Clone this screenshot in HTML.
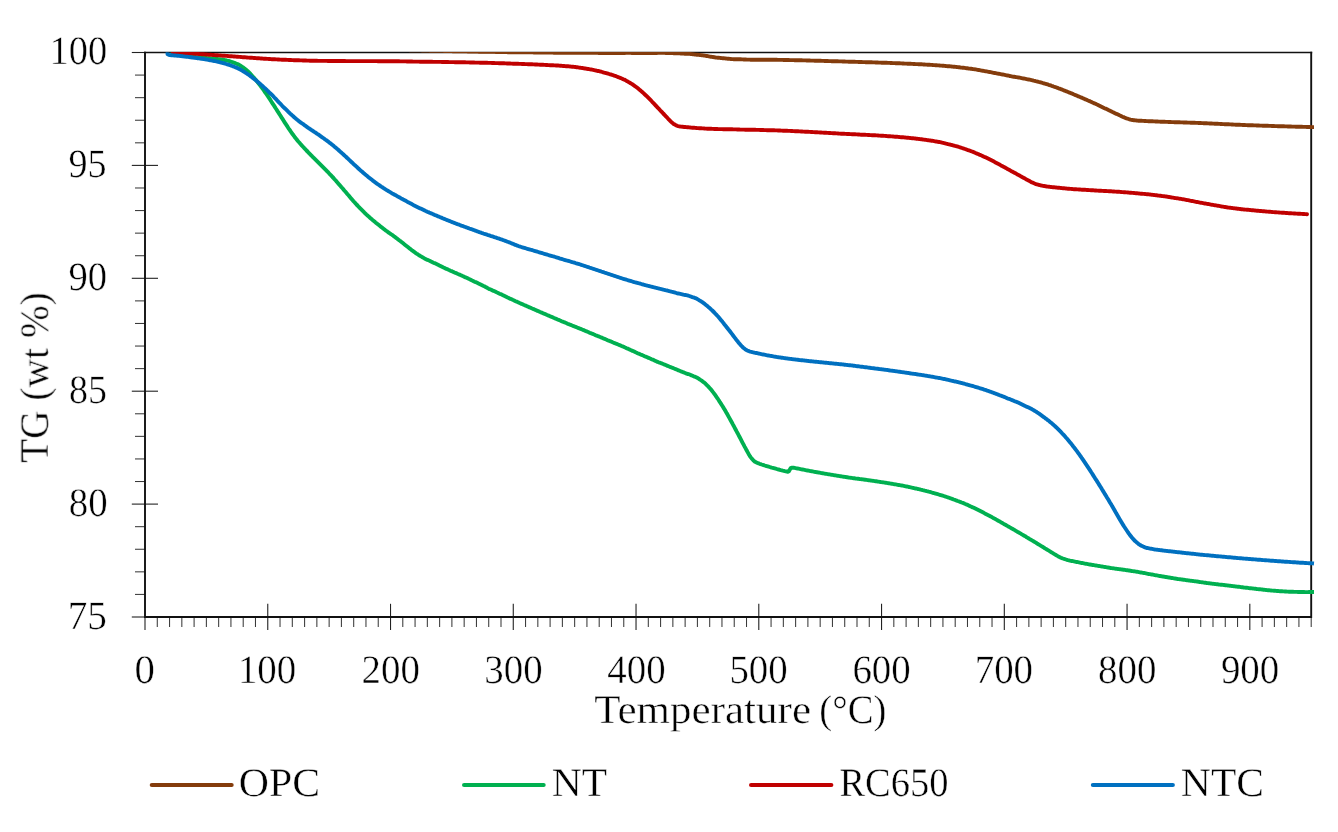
<!DOCTYPE html>
<html lang="en">
<head>
<meta charset="utf-8">
<title>TG curves</title>
<style>
html,body{margin:0;padding:0;background:#fff;}
body{width:1338px;height:832px;overflow:hidden;}
svg{display:block;}
text{font-family:"Liberation Serif","DejaVu Serif",serif;fill:#000;stroke:#fff;stroke-width:0.45px;text-rendering:geometricPrecision;}
.mj{stroke:#222;stroke-width:1.1;}
.mn{stroke:#3a3a3a;stroke-width:1.05;}
.c{fill:none;stroke-width:3.9;stroke-linejoin:round;}
</style>
</head>
<body>
<svg width="1338" height="832" viewBox="0 0 1338 832">
<rect width="1338" height="832" fill="#fff"/>
<defs><clipPath id="pa"><rect x="140" y="51.9" width="1180" height="580"/></clipPath></defs>
<g id="ticks">
<line class="mj" x1="131.8" x2="145.0" y1="617.00" y2="617.00"/>
<line class="mn" x1="135.0" x2="145.0" y1="594.42" y2="594.42"/>
<line class="mn" x1="135.0" x2="145.0" y1="571.84" y2="571.84"/>
<line class="mn" x1="135.0" x2="145.0" y1="549.26" y2="549.26"/>
<line class="mn" x1="135.0" x2="145.0" y1="526.68" y2="526.68"/>
<line class="mj" x1="131.8" x2="158.0" y1="504.10" y2="504.10"/>
<line class="mn" x1="135.0" x2="145.0" y1="481.52" y2="481.52"/>
<line class="mn" x1="135.0" x2="145.0" y1="458.94" y2="458.94"/>
<line class="mn" x1="135.0" x2="145.0" y1="436.36" y2="436.36"/>
<line class="mn" x1="135.0" x2="145.0" y1="413.78" y2="413.78"/>
<line class="mj" x1="131.8" x2="158.0" y1="391.20" y2="391.20"/>
<line class="mn" x1="135.0" x2="145.0" y1="368.62" y2="368.62"/>
<line class="mn" x1="135.0" x2="145.0" y1="346.04" y2="346.04"/>
<line class="mn" x1="135.0" x2="145.0" y1="323.46" y2="323.46"/>
<line class="mn" x1="135.0" x2="145.0" y1="300.88" y2="300.88"/>
<line class="mj" x1="131.8" x2="158.0" y1="278.30" y2="278.30"/>
<line class="mn" x1="135.0" x2="145.0" y1="255.72" y2="255.72"/>
<line class="mn" x1="135.0" x2="145.0" y1="233.14" y2="233.14"/>
<line class="mn" x1="135.0" x2="145.0" y1="210.56" y2="210.56"/>
<line class="mn" x1="135.0" x2="145.0" y1="187.98" y2="187.98"/>
<line class="mj" x1="131.8" x2="158.0" y1="165.40" y2="165.40"/>
<line class="mn" x1="135.0" x2="145.0" y1="142.82" y2="142.82"/>
<line class="mn" x1="135.0" x2="145.0" y1="120.24" y2="120.24"/>
<line class="mn" x1="135.0" x2="145.0" y1="97.66" y2="97.66"/>
<line class="mn" x1="135.0" x2="145.0" y1="75.08" y2="75.08"/>
<line class="mj" x1="131.8" x2="145.0" y1="52.50" y2="52.50"/>
<line class="mj" x1="145.00" x2="145.00" y1="617.0" y2="630.0"/>
<line class="mn" x1="157.28" x2="157.28" y1="617.0" y2="627.0"/>
<line class="mn" x1="169.55" x2="169.55" y1="617.0" y2="627.0"/>
<line class="mn" x1="181.83" x2="181.83" y1="617.0" y2="627.0"/>
<line class="mn" x1="194.10" x2="194.10" y1="617.0" y2="627.0"/>
<line class="mn" x1="206.38" x2="206.38" y1="617.0" y2="627.0"/>
<line class="mn" x1="218.65" x2="218.65" y1="617.0" y2="627.0"/>
<line class="mn" x1="230.93" x2="230.93" y1="617.0" y2="627.0"/>
<line class="mn" x1="243.21" x2="243.21" y1="617.0" y2="627.0"/>
<line class="mn" x1="255.48" x2="255.48" y1="617.0" y2="627.0"/>
<line class="mj" x1="267.76" x2="267.76" y1="603.8" y2="630.0"/>
<line class="mn" x1="280.03" x2="280.03" y1="617.0" y2="627.0"/>
<line class="mn" x1="292.31" x2="292.31" y1="617.0" y2="627.0"/>
<line class="mn" x1="304.59" x2="304.59" y1="617.0" y2="627.0"/>
<line class="mn" x1="316.86" x2="316.86" y1="617.0" y2="627.0"/>
<line class="mn" x1="329.14" x2="329.14" y1="617.0" y2="627.0"/>
<line class="mn" x1="341.41" x2="341.41" y1="617.0" y2="627.0"/>
<line class="mn" x1="353.69" x2="353.69" y1="617.0" y2="627.0"/>
<line class="mn" x1="365.96" x2="365.96" y1="617.0" y2="627.0"/>
<line class="mn" x1="378.24" x2="378.24" y1="617.0" y2="627.0"/>
<line class="mj" x1="390.52" x2="390.52" y1="603.8" y2="630.0"/>
<line class="mn" x1="402.79" x2="402.79" y1="617.0" y2="627.0"/>
<line class="mn" x1="415.07" x2="415.07" y1="617.0" y2="627.0"/>
<line class="mn" x1="427.34" x2="427.34" y1="617.0" y2="627.0"/>
<line class="mn" x1="439.62" x2="439.62" y1="617.0" y2="627.0"/>
<line class="mn" x1="451.89" x2="451.89" y1="617.0" y2="627.0"/>
<line class="mn" x1="464.17" x2="464.17" y1="617.0" y2="627.0"/>
<line class="mn" x1="476.45" x2="476.45" y1="617.0" y2="627.0"/>
<line class="mn" x1="488.72" x2="488.72" y1="617.0" y2="627.0"/>
<line class="mn" x1="501.00" x2="501.00" y1="617.0" y2="627.0"/>
<line class="mj" x1="513.27" x2="513.27" y1="603.8" y2="630.0"/>
<line class="mn" x1="525.55" x2="525.55" y1="617.0" y2="627.0"/>
<line class="mn" x1="537.83" x2="537.83" y1="617.0" y2="627.0"/>
<line class="mn" x1="550.10" x2="550.10" y1="617.0" y2="627.0"/>
<line class="mn" x1="562.38" x2="562.38" y1="617.0" y2="627.0"/>
<line class="mn" x1="574.65" x2="574.65" y1="617.0" y2="627.0"/>
<line class="mn" x1="586.93" x2="586.93" y1="617.0" y2="627.0"/>
<line class="mn" x1="599.20" x2="599.20" y1="617.0" y2="627.0"/>
<line class="mn" x1="611.48" x2="611.48" y1="617.0" y2="627.0"/>
<line class="mn" x1="623.76" x2="623.76" y1="617.0" y2="627.0"/>
<line class="mj" x1="636.03" x2="636.03" y1="603.8" y2="630.0"/>
<line class="mn" x1="648.31" x2="648.31" y1="617.0" y2="627.0"/>
<line class="mn" x1="660.58" x2="660.58" y1="617.0" y2="627.0"/>
<line class="mn" x1="672.86" x2="672.86" y1="617.0" y2="627.0"/>
<line class="mn" x1="685.13" x2="685.13" y1="617.0" y2="627.0"/>
<line class="mn" x1="697.41" x2="697.41" y1="617.0" y2="627.0"/>
<line class="mn" x1="709.69" x2="709.69" y1="617.0" y2="627.0"/>
<line class="mn" x1="721.96" x2="721.96" y1="617.0" y2="627.0"/>
<line class="mn" x1="734.24" x2="734.24" y1="617.0" y2="627.0"/>
<line class="mn" x1="746.51" x2="746.51" y1="617.0" y2="627.0"/>
<line class="mj" x1="758.79" x2="758.79" y1="603.8" y2="630.0"/>
<line class="mn" x1="771.07" x2="771.07" y1="617.0" y2="627.0"/>
<line class="mn" x1="783.34" x2="783.34" y1="617.0" y2="627.0"/>
<line class="mn" x1="795.62" x2="795.62" y1="617.0" y2="627.0"/>
<line class="mn" x1="807.89" x2="807.89" y1="617.0" y2="627.0"/>
<line class="mn" x1="820.17" x2="820.17" y1="617.0" y2="627.0"/>
<line class="mn" x1="832.44" x2="832.44" y1="617.0" y2="627.0"/>
<line class="mn" x1="844.72" x2="844.72" y1="617.0" y2="627.0"/>
<line class="mn" x1="857.00" x2="857.00" y1="617.0" y2="627.0"/>
<line class="mn" x1="869.27" x2="869.27" y1="617.0" y2="627.0"/>
<line class="mj" x1="881.55" x2="881.55" y1="603.8" y2="630.0"/>
<line class="mn" x1="893.82" x2="893.82" y1="617.0" y2="627.0"/>
<line class="mn" x1="906.10" x2="906.10" y1="617.0" y2="627.0"/>
<line class="mn" x1="918.37" x2="918.37" y1="617.0" y2="627.0"/>
<line class="mn" x1="930.65" x2="930.65" y1="617.0" y2="627.0"/>
<line class="mn" x1="942.93" x2="942.93" y1="617.0" y2="627.0"/>
<line class="mn" x1="955.20" x2="955.20" y1="617.0" y2="627.0"/>
<line class="mn" x1="967.48" x2="967.48" y1="617.0" y2="627.0"/>
<line class="mn" x1="979.75" x2="979.75" y1="617.0" y2="627.0"/>
<line class="mn" x1="992.03" x2="992.03" y1="617.0" y2="627.0"/>
<line class="mj" x1="1004.31" x2="1004.31" y1="603.8" y2="630.0"/>
<line class="mn" x1="1016.58" x2="1016.58" y1="617.0" y2="627.0"/>
<line class="mn" x1="1028.86" x2="1028.86" y1="617.0" y2="627.0"/>
<line class="mn" x1="1041.13" x2="1041.13" y1="617.0" y2="627.0"/>
<line class="mn" x1="1053.41" x2="1053.41" y1="617.0" y2="627.0"/>
<line class="mn" x1="1065.68" x2="1065.68" y1="617.0" y2="627.0"/>
<line class="mn" x1="1077.96" x2="1077.96" y1="617.0" y2="627.0"/>
<line class="mn" x1="1090.24" x2="1090.24" y1="617.0" y2="627.0"/>
<line class="mn" x1="1102.51" x2="1102.51" y1="617.0" y2="627.0"/>
<line class="mn" x1="1114.79" x2="1114.79" y1="617.0" y2="627.0"/>
<line class="mj" x1="1127.06" x2="1127.06" y1="603.8" y2="630.0"/>
<line class="mn" x1="1139.34" x2="1139.34" y1="617.0" y2="627.0"/>
<line class="mn" x1="1151.61" x2="1151.61" y1="617.0" y2="627.0"/>
<line class="mn" x1="1163.89" x2="1163.89" y1="617.0" y2="627.0"/>
<line class="mn" x1="1176.17" x2="1176.17" y1="617.0" y2="627.0"/>
<line class="mn" x1="1188.44" x2="1188.44" y1="617.0" y2="627.0"/>
<line class="mn" x1="1200.72" x2="1200.72" y1="617.0" y2="627.0"/>
<line class="mn" x1="1212.99" x2="1212.99" y1="617.0" y2="627.0"/>
<line class="mn" x1="1225.27" x2="1225.27" y1="617.0" y2="627.0"/>
<line class="mn" x1="1237.55" x2="1237.55" y1="617.0" y2="627.0"/>
<line class="mj" x1="1249.82" x2="1249.82" y1="603.8" y2="630.0"/>
<line class="mn" x1="1262.10" x2="1262.10" y1="617.0" y2="627.0"/>
<line class="mn" x1="1274.37" x2="1274.37" y1="617.0" y2="627.0"/>
<line class="mn" x1="1286.65" x2="1286.65" y1="617.0" y2="627.0"/>
<line class="mn" x1="1298.92" x2="1298.92" y1="617.0" y2="627.0"/>
<line class="mn" x1="1311.20" x2="1311.20" y1="617.0" y2="627.0"/>
</g>
<g id="frame" stroke="#111" fill="none"><path d="M145.0 51.8V617.0H1311.2V51.8" stroke-width="1.9"/><path d="M144.1 52.5H1312.2" stroke-width="1.5"/></g>
<g id="curves" clip-path="url(#pa)">
<path class="c" stroke="#843c0c" stroke-linecap="butt" d="M370.0 49.1L371.0 49.1L372.0 49.1L373.0 49.2L374.0 49.2L375.0 49.2L376.0 49.3L377.0 49.3L378.0 49.3L379.0 49.3L380.0 49.4L381.0 49.4L382.0 49.4L383.0 49.5L384.0 49.5L385.0 49.5L386.0 49.5L387.0 49.6L388.0 49.6L389.0 49.6L390.0 49.7L391.0 49.7L392.0 49.7L393.0 49.7L394.0 49.8L395.0 49.8L396.0 49.8L397.0 49.8L398.0 49.9L399.0 49.9L400.0 49.9L401.0 49.9L402.0 50.0L403.0 50.0L404.0 50.0L405.0 50.0L406.0 50.1L407.0 50.1L408.0 50.1L409.0 50.1L410.0 50.2L411.0 50.2L412.0 50.2L413.0 50.3L414.0 50.3L415.0 50.3L416.0 50.3L417.0 50.3L418.0 50.4L419.0 50.4L420.0 50.4L421.0 50.4L422.0 50.5L423.0 50.5L424.0 50.5L425.0 50.5L426.0 50.6L427.0 50.6L428.0 50.6L429.0 50.6L430.0 50.7L431.0 50.7L432.0 50.7L433.0 50.7L434.0 50.7L435.0 50.8L436.0 50.8L437.0 50.8L438.0 50.8L439.0 50.9L440.0 50.9L441.0 50.9L442.0 50.9L443.0 50.9L444.0 51.0L445.0 51.0L445.9 51.0L446.9 51.0L447.9 51.1L448.9 51.1L449.9 51.1L450.9 51.1L451.9 51.1L452.9 51.2L453.9 51.2L454.9 51.2L455.9 51.2L456.9 51.2L457.9 51.3L458.9 51.3L459.9 51.3L460.9 51.3L461.9 51.3L462.9 51.4L463.9 51.4L464.9 51.4L465.9 51.4L466.9 51.4L467.9 51.5L468.9 51.5L469.9 51.5L470.9 51.5L471.9 51.5L472.9 51.6L473.9 51.6L474.9 51.6L475.9 51.6L476.9 51.6L477.9 51.6L478.9 51.7L479.9 51.7L480.9 51.7L481.9 51.7L482.9 51.7L483.9 51.8L484.9 51.8L485.9 51.8L486.9 51.8L487.9 51.8L488.9 51.8L489.9 51.9L490.9 51.9L491.9 51.9L492.9 51.9L493.9 51.9L494.9 51.9L495.9 52.0L496.9 52.0L497.9 52.0L498.9 52.0L499.9 52.0L500.9 52.0L501.9 52.1L502.9 52.1L503.9 52.1L504.9 52.1L505.9 52.1L506.9 52.1L507.9 52.2L508.9 52.2L509.9 52.2L510.9 52.2L511.9 52.2L512.9 52.2L513.9 52.2L514.9 52.3L515.9 52.3L516.9 52.3L517.9 52.3L518.9 52.3L519.9 52.3L520.9 52.3L521.9 52.3L522.9 52.3L523.9 52.4L524.9 52.4L525.9 52.4L526.9 52.4L527.9 52.4L528.9 52.4L529.9 52.4L530.9 52.4L531.9 52.4L532.9 52.4L533.9 52.5L534.9 52.5L535.9 52.5L536.9 52.5L537.9 52.5L538.9 52.5L539.9 52.5L540.9 52.5L541.9 52.5L542.9 52.5L543.9 52.6L544.9 52.6L545.9 52.6L546.9 52.6L547.9 52.6L548.9 52.6L549.9 52.6L550.9 52.6L551.9 52.6L552.9 52.6L553.9 52.7L554.9 52.7L555.9 52.7L556.9 52.7L557.9 52.7L558.9 52.7L559.9 52.7L560.9 52.7L561.9 52.7L562.9 52.7L563.9 52.7L564.9 52.8L565.9 52.8L566.9 52.8L567.9 52.8L568.9 52.8L569.9 52.8L570.9 52.8L571.9 52.8L572.9 52.8L573.9 52.8L574.9 52.8L575.9 52.8L576.9 52.8L577.9 52.9L578.9 52.9L579.9 52.9L580.9 52.9L581.9 52.9L582.9 52.9L583.9 52.9L584.9 52.9L585.9 52.9L586.9 52.9L587.9 52.9L588.9 52.9L589.9 52.9L590.9 52.9L591.9 52.9L592.9 52.9L593.9 52.9L594.9 52.9L595.9 52.9L596.9 52.9L597.9 52.9L598.8 53.0L599.8 53.0L600.8 53.0L601.8 53.0L602.8 53.0L603.8 53.0L604.8 53.0L605.8 53.0L606.8 53.0L607.8 53.0L608.8 53.0L609.8 53.0L610.8 53.0L611.8 53.0L612.8 53.0L613.8 53.0L614.8 53.0L615.8 53.0L616.8 53.0L617.8 53.0L618.8 53.0L619.8 53.0L620.8 53.0L621.8 53.0L622.8 53.0L623.8 53.0L624.8 53.0L625.8 52.9L626.8 52.9L627.8 52.9L628.8 52.9L629.8 52.9L630.8 52.9L631.8 53.0L632.8 53.0L633.8 53.0L634.8 53.0L635.8 53.0L636.8 53.0L637.8 53.0L638.8 53.0L639.8 53.0L640.8 53.0L641.8 53.1L642.8 53.1L643.8 53.1L644.8 53.1L645.8 53.1L646.8 53.1L647.8 53.1L648.8 53.1L649.8 53.1L650.8 53.1L651.8 53.1L652.8 53.1L653.8 53.0L654.8 53.0L655.8 53.0L656.8 53.0L657.8 52.9L658.8 52.9L659.8 52.9L660.8 52.9L661.8 52.9L662.8 52.9L663.8 52.9L664.8 52.9L665.8 53.0L666.8 53.0L667.8 53.0L668.8 53.0L669.8 53.0L670.8 53.1L671.8 53.1L672.8 53.1L673.8 53.2L674.8 53.2L675.8 53.2L676.8 53.3L677.8 53.3L678.8 53.4L679.8 53.4L680.8 53.5L681.8 53.5L682.8 53.6L683.8 53.6L684.8 53.7L685.8 53.7L686.8 53.7L687.8 53.8L688.8 53.8L689.8 53.9L690.8 54.0L691.8 54.1L692.8 54.2L693.8 54.4L694.8 54.5L695.8 54.6L696.8 54.7L697.8 54.8L698.8 54.9L699.8 55.0L700.8 55.1L701.8 55.2L702.8 55.4L703.8 55.5L704.8 55.6L705.8 55.8L706.8 56.0L707.8 56.2L708.8 56.4L709.8 56.6L710.8 56.7L711.8 56.9L712.8 57.0L713.8 57.2L714.8 57.3L715.8 57.5L716.8 57.6L717.8 57.7L718.8 57.8L719.8 57.9L720.8 58.0L721.8 58.1L722.8 58.2L723.8 58.3L724.8 58.4L725.8 58.5L726.8 58.6L727.8 58.7L728.8 58.8L729.8 58.9L730.8 59.0L731.8 59.1L732.8 59.1L733.8 59.2L734.8 59.2L735.8 59.2L736.8 59.2L737.8 59.2L738.8 59.3L739.8 59.3L740.8 59.3L741.8 59.4L742.8 59.4L743.8 59.5L744.8 59.5L745.8 59.5L746.8 59.6L747.8 59.6L748.8 59.6L749.8 59.6L750.7 59.7L751.7 59.7L752.7 59.7L753.7 59.7L754.7 59.7L755.7 59.7L756.7 59.7L757.7 59.7L758.7 59.7L759.7 59.7L760.7 59.7L761.7 59.7L762.7 59.7L763.7 59.7L764.7 59.8L765.7 59.8L766.7 59.8L767.7 59.8L768.7 59.8L769.7 59.8L770.7 59.8L771.7 59.8L772.7 59.8L773.7 59.8L774.7 59.8L775.7 59.8L776.7 59.8L777.7 59.9L778.7 59.9L779.7 59.9L780.7 59.9L781.7 59.9L782.7 59.9L783.7 60.0L784.7 60.0L785.7 60.0L786.7 60.0L787.7 60.0L788.7 60.0L789.7 60.1L790.7 60.1L791.7 60.1L792.7 60.1L793.7 60.1L794.7 60.2L795.7 60.2L796.7 60.2L797.7 60.2L798.7 60.3L799.7 60.3L800.7 60.3L801.7 60.3L802.7 60.4L803.7 60.4L804.7 60.4L805.7 60.4L806.7 60.5L807.7 60.5L808.7 60.5L809.7 60.5L810.7 60.6L811.7 60.6L812.7 60.6L813.7 60.6L814.7 60.7L815.7 60.7L816.7 60.7L817.7 60.8L818.7 60.8L819.7 60.8L820.7 60.8L821.7 60.9L822.7 60.9L823.7 60.9L824.7 61.0L825.7 61.0L826.7 61.0L827.7 61.0L828.7 61.1L829.7 61.1L830.7 61.1L831.7 61.2L832.7 61.2L833.7 61.2L834.7 61.3L835.7 61.3L836.7 61.3L837.7 61.3L838.7 61.4L839.7 61.4L840.7 61.4L841.7 61.4L842.7 61.5L843.7 61.5L844.7 61.5L845.7 61.6L846.7 61.6L847.7 61.6L848.7 61.7L849.7 61.7L850.7 61.7L851.7 61.8L852.7 61.8L853.7 61.8L854.7 61.8L855.7 61.9L856.7 61.9L857.7 61.9L858.7 62.0L859.7 62.0L860.7 62.0L861.7 62.0L862.7 62.1L863.7 62.1L864.7 62.1L865.7 62.2L866.7 62.2L867.7 62.2L868.7 62.2L869.7 62.3L870.7 62.3L871.7 62.3L872.7 62.4L873.7 62.4L874.7 62.4L875.7 62.5L876.7 62.5L877.7 62.5L878.7 62.6L879.7 62.6L880.7 62.6L881.7 62.7L882.7 62.7L883.7 62.7L884.7 62.8L885.7 62.8L886.7 62.8L887.7 62.9L888.7 62.9L889.7 62.9L890.7 63.0L891.7 63.0L892.7 63.1L893.7 63.1L894.7 63.1L895.7 63.2L896.7 63.2L897.7 63.3L898.7 63.3L899.7 63.3L900.7 63.4L901.6 63.4L902.6 63.5L903.6 63.5L904.6 63.6L905.6 63.6L906.6 63.6L907.6 63.7L908.6 63.7L909.6 63.8L910.6 63.8L911.6 63.9L912.6 63.9L913.6 64.0L914.6 64.0L915.6 64.1L916.6 64.1L917.6 64.1L918.6 64.2L919.6 64.2L920.6 64.3L921.6 64.3L922.6 64.4L923.6 64.5L924.6 64.5L925.6 64.6L926.6 64.6L927.6 64.7L928.6 64.8L929.6 64.8L930.6 64.9L931.6 64.9L932.6 65.0L933.6 65.1L934.6 65.1L935.6 65.2L936.6 65.3L937.6 65.4L938.6 65.4L939.6 65.5L940.6 65.6L941.6 65.6L942.6 65.7L943.6 65.8L944.6 65.9L945.6 66.0L946.6 66.1L947.6 66.2L948.6 66.3L949.6 66.3L950.6 66.4L951.6 66.5L952.6 66.6L953.6 66.7L954.6 66.8L955.6 66.9L956.6 67.0L957.6 67.1L958.6 67.2L959.6 67.3L960.6 67.5L961.6 67.6L962.6 67.7L963.6 67.8L964.6 67.9L965.6 68.1L966.6 68.2L967.6 68.3L968.6 68.5L969.6 68.6L970.6 68.7L971.6 68.8L972.6 69.0L973.6 69.1L974.6 69.3L975.6 69.4L976.6 69.6L977.6 69.8L978.6 70.0L979.6 70.2L980.6 70.4L981.6 70.6L982.6 70.7L983.6 70.9L984.6 71.1L985.6 71.3L986.6 71.4L987.6 71.6L988.6 71.8L989.6 72.0L990.6 72.2L991.6 72.4L992.6 72.6L993.6 72.8L994.6 73.0L995.6 73.2L996.6 73.4L997.6 73.6L998.6 73.7L999.6 73.9L1000.6 74.1L1001.6 74.3L1002.6 74.5L1003.6 74.7L1004.6 74.9L1005.6 75.1L1006.6 75.3L1007.6 75.5L1008.6 75.7L1009.6 76.0L1010.6 76.2L1011.6 76.4L1012.6 76.6L1013.6 76.7L1014.6 76.8L1015.6 77.0L1016.6 77.1L1017.6 77.3L1018.6 77.5L1019.6 77.7L1020.6 77.9L1021.6 78.1L1022.6 78.3L1023.6 78.5L1024.6 78.7L1025.6 78.9L1026.6 79.1L1027.6 79.3L1028.6 79.5L1029.6 79.7L1030.6 79.9L1031.6 80.1L1032.6 80.3L1033.6 80.6L1034.6 80.8L1035.6 81.1L1036.6 81.3L1037.6 81.6L1038.6 81.9L1039.6 82.1L1040.6 82.4L1041.6 82.7L1042.6 83.0L1043.6 83.3L1044.6 83.5L1045.6 83.8L1046.6 84.1L1047.6 84.4L1048.6 84.8L1049.6 85.1L1050.6 85.4L1051.6 85.8L1052.6 86.1L1053.6 86.5L1054.5 86.8L1055.5 87.2L1056.5 87.5L1057.5 87.9L1058.5 88.3L1059.5 88.6L1060.5 89.0L1061.5 89.4L1062.5 89.8L1063.5 90.2L1064.5 90.6L1065.5 91.0L1066.5 91.4L1067.5 91.8L1068.5 92.2L1069.5 92.6L1070.5 93.0L1071.5 93.4L1072.5 93.8L1073.5 94.3L1074.5 94.7L1075.5 95.1L1076.5 95.5L1077.5 95.9L1078.5 96.4L1079.5 96.8L1080.5 97.2L1081.5 97.6L1082.5 98.1L1083.5 98.5L1084.5 98.9L1085.5 99.4L1086.5 99.8L1087.5 100.3L1088.5 100.7L1089.5 101.1L1090.5 101.6L1091.5 102.0L1092.5 102.5L1093.5 102.9L1094.5 103.4L1095.5 103.8L1096.5 104.3L1097.5 104.7L1098.5 105.2L1099.5 105.7L1100.5 106.2L1101.5 106.7L1102.5 107.2L1103.5 107.7L1104.5 108.2L1105.5 108.6L1106.5 109.1L1107.5 109.6L1108.5 110.1L1109.5 110.5L1110.5 111.0L1111.5 111.5L1112.5 112.0L1113.5 112.4L1114.5 112.9L1115.5 113.4L1116.5 113.9L1117.5 114.3L1118.5 114.8L1119.5 115.3L1120.5 115.7L1121.5 116.2L1122.5 116.7L1123.5 117.1L1124.5 117.6L1125.5 118.0L1126.5 118.4L1127.5 118.7L1128.5 119.0L1129.5 119.3L1130.5 119.6L1131.5 119.8L1132.5 120.0L1133.5 120.2L1134.5 120.3L1135.5 120.4L1136.5 120.5L1137.5 120.6L1138.5 120.7L1139.5 120.7L1140.5 120.8L1141.5 120.8L1142.5 120.9L1143.5 120.9L1144.5 121.0L1145.5 121.0L1146.5 121.1L1147.5 121.1L1148.5 121.2L1149.6 121.2L1150.6 121.2L1151.6 121.3L1152.6 121.3L1153.6 121.4L1154.6 121.4L1155.6 121.5L1156.6 121.5L1157.6 121.5L1158.6 121.6L1159.6 121.6L1160.6 121.7L1161.6 121.7L1162.6 121.7L1163.6 121.8L1164.6 121.8L1165.6 121.9L1166.6 121.9L1167.6 121.9L1168.6 122.0L1169.6 122.0L1170.6 122.0L1171.6 122.1L1172.6 122.1L1173.6 122.1L1174.6 122.2L1175.6 122.2L1176.6 122.2L1177.6 122.3L1178.6 122.3L1179.6 122.3L1180.6 122.4L1181.6 122.4L1182.6 122.4L1183.6 122.5L1184.6 122.5L1185.6 122.5L1186.6 122.5L1187.6 122.6L1188.6 122.6L1189.7 122.6L1190.7 122.7L1191.7 122.7L1192.7 122.8L1193.7 122.8L1194.7 122.8L1195.7 122.9L1196.7 122.9L1197.7 122.9L1198.7 123.0L1199.7 123.0L1200.7 123.0L1201.7 123.1L1202.7 123.1L1203.7 123.2L1204.7 123.2L1205.7 123.3L1206.7 123.3L1207.7 123.4L1208.7 123.4L1209.7 123.5L1210.7 123.5L1211.7 123.5L1212.7 123.6L1213.7 123.6L1214.7 123.7L1215.7 123.7L1216.7 123.8L1217.7 123.8L1218.7 123.9L1219.7 123.9L1220.7 124.0L1221.7 124.0L1222.7 124.1L1223.7 124.1L1224.7 124.2L1225.7 124.2L1226.7 124.3L1227.7 124.3L1228.7 124.3L1229.8 124.4L1230.8 124.4L1231.8 124.5L1232.8 124.5L1233.8 124.6L1234.8 124.6L1235.8 124.7L1236.8 124.7L1237.8 124.8L1238.8 124.8L1239.8 124.8L1240.8 124.9L1241.8 124.9L1242.8 125.0L1243.8 125.0L1244.8 125.0L1245.8 125.1L1246.8 125.1L1247.8 125.2L1248.8 125.2L1249.8 125.2L1250.8 125.3L1251.8 125.3L1252.8 125.3L1253.8 125.4L1254.8 125.4L1255.8 125.4L1256.8 125.5L1257.8 125.5L1258.8 125.5L1259.8 125.6L1260.8 125.6L1261.8 125.6L1262.8 125.7L1263.8 125.7L1264.8 125.7L1265.8 125.8L1266.8 125.8L1267.8 125.8L1268.9 125.9L1269.9 125.9L1270.9 125.9L1271.9 126.0L1272.9 126.0L1273.9 126.0L1274.9 126.1L1275.9 126.1L1276.9 126.1L1277.9 126.2L1278.9 126.2L1279.9 126.2L1280.9 126.3L1281.9 126.3L1282.9 126.3L1283.9 126.3L1284.9 126.4L1285.9 126.4L1286.9 126.4L1287.9 126.5L1288.9 126.5L1289.9 126.5L1290.9 126.5L1291.9 126.6L1292.9 126.6L1293.9 126.6L1294.9 126.6L1295.9 126.7L1296.9 126.7L1297.9 126.7L1298.9 126.8L1299.9 126.8L1300.9 126.8L1301.9 126.8L1302.9 126.9L1303.9 126.9L1304.9 126.9L1305.9 126.9L1306.9 127.0L1307.9 127.0L1309.0 127.0L1310.0 127.0L1311.0 127.1L1312.0 127.1L1313.0 127.1L1314.0 127.1"/>
<path class="c" stroke="#00b050" stroke-linecap="butt" d="M170.5 52.9L171.5 53.1L172.5 53.3L173.5 53.5L174.5 53.7L175.5 53.9L176.5 54.0L177.5 54.2L178.5 54.4L179.5 54.6L180.5 54.7L181.5 54.9L182.5 55.1L183.5 55.2L184.5 55.4L185.5 55.5L186.5 55.7L187.5 55.8L188.5 56.0L189.5 56.1L190.5 56.3L191.5 56.4L192.5 56.6L193.5 56.7L194.5 56.8L195.5 57.0L196.5 57.1L197.5 57.2L198.5 57.3L199.5 57.5L200.5 57.6L201.5 57.7L202.5 57.7L203.5 57.8L204.5 57.9L205.5 58.0L206.5 58.0L207.5 58.1L208.5 58.2L209.5 58.3L210.5 58.4L211.5 58.5L212.5 58.6L213.5 58.7L214.5 58.7L215.5 58.8L216.5 58.9L217.5 59.0L218.5 59.1L219.5 59.2L220.5 59.4L221.5 59.5L222.5 59.6L223.5 59.8L224.5 60.0L225.5 60.1L226.5 60.4L227.5 60.6L228.5 60.9L229.5 61.2L230.5 61.5L231.5 61.8L232.5 62.2L233.5 62.5L234.5 62.9L235.5 63.3L236.5 63.7L237.5 64.1L238.5 64.6L239.5 65.1L240.5 65.7L241.5 66.3L242.5 67.0L243.5 67.7L244.5 68.5L245.5 69.3L246.5 70.1L247.5 71.0L248.5 72.0L249.5 73.0L250.5 74.0L251.5 75.1L252.5 76.2L253.5 77.3L254.5 78.4L255.5 79.6L256.5 80.8L257.5 82.0L258.5 83.3L259.5 84.6L260.5 85.9L261.5 87.2L262.5 88.6L263.5 89.9L264.5 91.3L265.5 92.8L266.5 94.2L267.5 95.7L268.5 97.2L269.5 98.7L270.5 100.2L271.5 101.8L272.5 103.3L273.5 104.8L274.5 106.4L275.5 108.0L276.5 109.5L277.5 111.1L278.5 112.6L279.5 114.2L280.5 115.8L281.5 117.4L282.5 118.9L283.5 120.5L284.5 122.1L285.5 123.7L286.5 125.2L287.5 126.7L288.5 128.3L289.5 129.7L290.5 131.2L291.5 132.6L292.5 134.0L293.5 135.3L294.5 136.7L295.5 138.0L296.5 139.2L297.5 140.5L298.5 141.7L299.5 142.8L300.5 144.0L301.5 145.1L302.5 146.2L303.5 147.3L304.5 148.4L305.5 149.4L306.5 150.5L307.5 151.5L308.5 152.6L309.5 153.6L310.5 154.6L311.5 155.7L312.5 156.7L313.5 157.6L314.5 158.6L315.5 159.6L316.5 160.6L317.5 161.6L318.5 162.6L319.5 163.6L320.5 164.6L321.5 165.6L322.5 166.6L323.5 167.6L324.5 168.6L325.5 169.6L326.5 170.6L327.5 171.7L328.5 172.7L329.5 173.8L330.5 174.8L331.5 175.9L332.5 177.0L333.5 178.0L334.5 179.2L335.5 180.3L336.5 181.4L337.5 182.6L338.5 183.7L339.5 184.9L340.5 186.0L341.5 187.2L342.5 188.3L343.5 189.5L344.5 190.7L345.5 191.8L346.5 193.0L347.5 194.2L348.5 195.3L349.5 196.5L350.5 197.7L351.5 198.9L352.5 200.0L353.5 201.2L354.5 202.3L355.5 203.4L356.5 204.5L357.5 205.5L358.5 206.6L359.5 207.6L360.5 208.7L361.5 209.7L362.5 210.7L363.5 211.7L364.5 212.7L365.5 213.6L366.5 214.6L367.5 215.5L368.5 216.4L369.5 217.3L370.5 218.2L371.5 219.0L372.5 219.9L373.5 220.7L374.5 221.5L375.5 222.4L376.5 223.2L377.5 224.0L378.5 224.8L379.5 225.6L380.5 226.4L381.5 227.2L382.5 227.9L383.5 228.7L384.5 229.5L385.5 230.3L386.5 231.0L387.5 231.7L388.5 232.5L389.5 233.1L390.5 233.8L391.5 234.5L392.5 235.2L393.5 235.9L394.5 236.7L395.5 237.4L396.5 238.2L397.5 238.9L398.5 239.7L399.5 240.5L400.5 241.2L401.5 242.0L402.5 242.8L403.5 243.6L404.5 244.4L405.5 245.2L406.5 246.0L407.5 246.8L408.5 247.6L409.5 248.4L410.5 249.1L411.5 249.9L412.5 250.7L413.5 251.4L414.5 252.1L415.5 252.9L416.5 253.6L417.5 254.2L418.5 254.9L419.5 255.5L420.5 256.1L421.5 256.7L422.5 257.3L423.5 257.8L424.5 258.4L425.5 258.9L426.5 259.4L427.5 259.9L428.5 260.3L429.5 260.7L430.5 261.2L431.5 261.7L432.5 262.2L433.5 262.7L434.5 263.1L435.5 263.6L436.5 264.1L437.5 264.6L438.5 265.1L439.5 265.6L440.5 266.0L441.5 266.5L442.5 267.0L443.5 267.5L444.5 267.9L445.5 268.4L446.5 268.9L447.5 269.3L448.5 269.8L449.5 270.2L450.5 270.7L451.5 271.1L452.5 271.6L453.5 272.0L454.5 272.5L455.5 272.9L456.5 273.3L457.5 273.8L458.5 274.2L459.5 274.6L460.5 275.1L461.6 275.5L462.6 276.0L463.6 276.4L464.6 276.9L465.6 277.4L466.6 277.8L467.6 278.3L468.6 278.8L469.6 279.2L470.6 279.7L471.6 280.3L472.6 280.7L473.6 281.2L474.6 281.7L475.6 282.1L476.6 282.6L477.6 283.1L478.6 283.6L479.6 284.0L480.6 284.5L481.6 285.0L482.6 285.5L483.6 286.0L484.6 286.4L485.6 287.0L486.6 287.5L487.6 288.1L488.6 288.7L489.6 289.2L490.6 289.5L491.6 289.9L492.6 290.4L493.6 290.9L494.6 291.3L495.6 291.8L496.6 292.3L497.6 292.7L498.6 293.2L499.6 293.7L500.6 294.1L501.6 294.6L502.6 295.1L503.6 295.5L504.6 296.0L505.6 296.5L506.6 297.0L507.6 297.5L508.6 297.9L509.6 298.4L510.6 298.9L511.6 299.3L512.6 299.8L513.6 300.2L514.6 300.7L515.6 301.2L516.6 301.6L517.6 302.1L518.6 302.5L519.6 303.0L520.6 303.4L521.6 303.9L522.6 304.3L523.6 304.8L524.6 305.2L525.6 305.6L526.6 306.1L527.6 306.5L528.6 306.9L529.6 307.4L530.6 307.8L531.6 308.3L532.6 308.7L533.6 309.1L534.6 309.6L535.6 310.0L536.6 310.4L537.6 310.9L538.6 311.3L539.6 311.8L540.6 312.2L541.6 312.6L542.6 313.1L543.6 313.5L544.6 313.9L545.6 314.3L546.6 314.8L547.6 315.2L548.6 315.6L549.6 316.1L550.6 316.5L551.6 316.9L552.6 317.3L553.6 317.8L554.6 318.2L555.6 318.6L556.6 319.0L557.6 319.5L558.6 319.9L559.6 320.3L560.6 320.7L561.6 321.2L562.6 321.6L563.6 322.0L564.6 322.4L565.6 322.8L566.6 323.2L567.6 323.7L568.6 324.1L569.6 324.5L570.6 324.9L571.6 325.3L572.6 325.7L573.6 326.1L574.6 326.5L575.6 326.9L576.6 327.3L577.6 327.7L578.6 328.1L579.6 328.5L580.6 328.9L581.6 329.3L582.6 329.7L583.6 330.1L584.6 330.6L585.6 331.0L586.6 331.4L587.6 331.8L588.6 332.2L589.6 332.7L590.6 333.1L591.6 333.5L592.6 333.9L593.6 334.3L594.6 334.7L595.6 335.2L596.6 335.6L597.6 336.0L598.6 336.4L599.6 336.8L600.6 337.2L601.6 337.6L602.6 338.1L603.6 338.5L604.6 338.9L605.6 339.3L606.6 339.7L607.6 340.2L608.6 340.6L609.6 341.0L610.6 341.4L611.6 341.8L612.6 342.3L613.6 342.7L614.6 343.1L615.6 343.5L616.6 343.9L617.6 344.3L618.6 344.7L619.6 345.1L620.6 345.5L621.6 346.0L622.6 346.4L623.6 346.8L624.6 347.3L625.6 347.7L626.6 348.2L627.6 348.6L628.6 349.1L629.6 349.5L630.6 350.0L631.6 350.4L632.6 350.9L633.6 351.3L634.6 351.8L635.6 352.3L636.6 352.7L637.6 353.2L638.6 353.6L639.6 354.0L640.6 354.5L641.6 354.9L642.6 355.3L643.6 355.7L644.6 356.2L645.6 356.6L646.6 357.0L647.6 357.4L648.6 357.9L649.6 358.3L650.6 358.7L651.6 359.2L652.6 359.6L653.6 360.1L654.6 360.6L655.6 361.0L656.6 361.4L657.6 361.9L658.6 362.3L659.6 362.6L660.6 363.0L661.6 363.4L662.6 363.8L663.6 364.2L664.6 364.6L665.6 365.0L666.6 365.4L667.6 365.9L668.6 366.3L669.6 366.7L670.6 367.1L671.6 367.5L672.6 367.9L673.6 368.3L674.6 368.7L675.6 369.1L676.6 369.5L677.6 369.9L678.6 370.4L679.6 370.8L680.6 371.2L681.6 371.6L682.6 372.0L683.6 372.4L684.6 372.8L685.6 373.2L686.6 373.6L687.6 374.0L688.6 374.2L689.6 374.5L690.6 374.9L691.6 375.4L692.6 375.8L693.6 376.3L694.6 376.6L695.6 377.0L696.6 377.5L697.6 378.0L698.6 378.6L699.6 379.3L700.6 380.0L701.6 380.7L702.6 381.4L703.6 382.2L704.6 382.9L705.6 383.8L706.6 384.8L707.6 385.8L708.6 386.9L709.6 388.0L710.6 389.1L711.6 390.3L712.6 391.6L713.6 392.9L714.6 394.2L715.6 395.6L716.6 397.1L717.6 398.5L718.6 400.0L719.6 401.6L720.6 403.1L721.6 404.7L722.6 406.3L723.6 407.9L724.6 409.6L725.6 411.3L726.6 413.1L727.6 414.8L728.6 416.6L729.6 418.4L730.6 420.2L731.6 422.0L732.6 423.9L733.6 425.7L734.6 427.6L735.6 429.5L736.6 431.4L737.6 433.2L738.6 435.1L739.6 437.0L740.6 438.9L741.6 440.9L742.6 442.8L743.6 444.7L744.6 446.6L745.6 448.4L746.6 450.3L747.6 452.1L748.6 453.9L749.6 455.6L750.6 457.1L751.6 458.4L752.6 459.5L753.6 460.6L754.6 461.5L755.6 462.1L756.6 462.6L757.6 463.0L758.6 463.4L759.6 463.8L760.6 464.1L761.7 464.5L762.7 464.8L763.7 465.1L764.7 465.5L765.7 465.8L766.7 466.1L767.7 466.4L768.7 466.7L769.7 467.0L770.7 467.3L771.7 467.6L772.7 467.8L773.7 468.1L774.7 468.4L775.7 468.7L776.7 469.0L777.7 469.3L778.7 469.5L779.8 469.8L780.8 470.1L781.8 470.3L782.8 470.6L783.8 470.8L784.8 471.1L785.8 471.3L786.8 471.5L787.8 471.8L788.9 471.2L789.6 470.0L790.6 468.2L791.6 467.6L793.5 467.7L794.5 467.9L795.5 468.1L796.5 468.3L797.5 468.5L798.5 468.7L799.5 468.9L800.5 469.1L801.5 469.3L802.5 469.5L803.5 469.7L804.5 469.9L805.5 470.1L806.5 470.3L807.5 470.5L808.5 470.7L809.5 470.9L810.5 471.1L811.5 471.2L812.5 471.4L813.5 471.6L814.5 471.8L815.5 472.0L816.5 472.2L817.5 472.3L818.5 472.5L819.5 472.7L820.5 472.9L821.5 473.1L822.5 473.2L823.5 473.4L824.5 473.6L825.5 473.8L826.5 473.9L827.6 474.1L828.6 474.3L829.6 474.4L830.6 474.6L831.6 474.8L832.6 474.9L833.6 475.1L834.6 475.3L835.6 475.4L836.6 475.6L837.6 475.8L838.6 475.9L839.6 476.1L840.6 476.2L841.6 476.4L842.6 476.6L843.6 476.7L844.6 476.9L845.6 477.0L846.6 477.2L847.6 477.3L848.6 477.5L849.6 477.6L850.6 477.8L851.6 477.9L852.6 478.1L853.6 478.2L854.6 478.3L855.6 478.5L856.6 478.6L857.6 478.7L858.6 478.8L859.6 479.0L860.6 479.1L861.6 479.2L862.6 479.4L863.6 479.5L864.6 479.7L865.6 479.8L866.6 479.9L867.6 480.1L868.6 480.2L869.6 480.4L870.6 480.5L871.6 480.6L872.6 480.8L873.6 480.9L874.6 481.1L875.6 481.2L876.6 481.3L877.6 481.5L878.6 481.6L879.6 481.8L880.6 482.0L881.6 482.1L882.6 482.3L883.6 482.4L884.6 482.6L885.6 482.7L886.6 482.9L887.6 483.1L888.6 483.2L889.6 483.4L890.6 483.6L891.6 483.7L892.6 483.9L893.6 484.1L894.6 484.3L895.7 484.4L896.7 484.6L897.7 484.8L898.7 485.0L899.7 485.2L900.7 485.4L901.7 485.5L902.7 485.7L903.7 485.9L904.7 486.1L905.7 486.3L906.7 486.5L907.7 486.7L908.7 487.0L909.7 487.2L910.7 487.4L911.7 487.6L912.7 487.8L913.7 488.0L914.7 488.3L915.7 488.5L916.7 488.7L917.7 489.0L918.7 489.2L919.7 489.4L920.7 489.7L921.7 489.9L922.7 490.2L923.7 490.4L924.7 490.7L925.7 490.9L926.7 491.2L927.7 491.4L928.7 491.7L929.7 491.9L930.7 492.2L931.7 492.5L932.7 492.8L933.7 493.0L934.7 493.3L935.7 493.6L936.7 493.9L937.7 494.2L938.7 494.5L939.7 494.8L940.7 495.1L941.7 495.4L942.7 495.7L943.7 496.0L944.7 496.3L945.7 496.7L946.7 497.0L947.7 497.3L948.7 497.7L949.7 498.0L950.7 498.4L951.7 498.7L952.7 499.1L953.7 499.5L954.7 499.8L955.7 500.2L956.7 500.6L957.7 501.0L958.7 501.3L959.7 501.7L960.7 502.1L961.7 502.5L962.8 502.9L963.8 503.3L964.8 503.8L965.8 504.2L966.8 504.6L967.8 505.1L968.8 505.6L969.8 506.0L970.8 506.5L971.8 506.9L972.8 507.4L973.8 507.8L974.8 508.3L975.8 508.8L976.8 509.3L977.8 509.8L978.8 510.3L979.8 510.8L980.8 511.3L981.8 511.8L982.8 512.3L983.8 512.8L984.8 513.4L985.8 513.9L986.8 514.4L987.8 515.0L988.8 515.5L989.8 516.0L990.8 516.6L991.8 517.1L992.8 517.7L993.8 518.2L994.8 518.8L995.8 519.3L996.8 519.9L997.8 520.5L998.8 521.1L999.8 521.6L1000.8 522.2L1001.8 522.8L1002.8 523.3L1003.8 523.9L1004.8 524.4L1005.8 525.0L1006.8 525.6L1007.8 526.2L1008.8 526.7L1009.8 527.3L1010.8 527.9L1011.8 528.5L1012.8 529.0L1013.8 529.6L1014.8 530.2L1015.8 530.8L1016.8 531.4L1017.8 532.0L1018.8 532.5L1019.8 533.1L1020.8 533.7L1021.8 534.3L1022.8 534.9L1023.8 535.5L1024.8 536.1L1025.8 536.6L1026.8 537.3L1027.8 537.9L1028.8 538.5L1029.8 539.1L1030.9 539.7L1031.9 540.3L1032.9 540.9L1033.9 541.5L1034.9 542.1L1035.9 542.7L1036.9 543.4L1037.9 544.0L1038.9 544.6L1039.9 545.2L1040.9 545.8L1041.9 546.4L1042.9 547.0L1043.9 547.6L1044.9 548.3L1045.9 548.9L1046.9 549.5L1047.9 550.1L1048.9 550.7L1049.9 551.3L1050.9 552.0L1051.9 552.6L1052.9 553.2L1053.9 553.8L1054.9 554.4L1055.9 555.0L1056.9 555.6L1057.9 556.2L1058.9 556.7L1059.9 557.2L1060.9 557.7L1061.9 558.1L1062.9 558.5L1063.9 558.8L1064.9 559.2L1065.9 559.5L1066.9 559.8L1067.9 560.1L1068.9 560.3L1069.9 560.6L1070.9 560.8L1071.9 561.0L1072.9 561.2L1073.9 561.4L1074.9 561.6L1075.9 561.8L1076.9 562.0L1077.9 562.2L1078.9 562.4L1079.9 562.6L1080.9 562.8L1081.9 563.0L1082.9 563.2L1083.9 563.4L1084.9 563.6L1085.9 563.8L1086.9 563.9L1087.9 564.1L1088.9 564.3L1089.9 564.5L1090.9 564.7L1091.9 564.8L1092.9 565.0L1093.9 565.2L1094.9 565.4L1095.9 565.5L1096.9 565.7L1097.9 565.9L1098.9 566.0L1099.9 566.2L1100.9 566.4L1101.9 566.5L1102.9 566.7L1103.9 566.9L1104.9 567.0L1105.9 567.2L1106.9 567.4L1107.9 567.5L1108.9 567.7L1109.9 567.8L1110.9 568.0L1111.9 568.1L1112.9 568.3L1113.9 568.4L1114.9 568.6L1115.9 568.7L1116.9 568.9L1117.9 569.0L1118.9 569.1L1119.9 569.2L1120.9 569.4L1121.9 569.5L1122.9 569.7L1123.9 569.8L1124.9 569.9L1125.9 570.1L1126.9 570.2L1127.9 570.3L1128.9 570.5L1129.9 570.7L1130.9 570.8L1131.9 571.0L1132.9 571.1L1133.9 571.3L1134.9 571.4L1135.9 571.6L1136.9 571.7L1137.9 571.9L1138.9 572.1L1139.9 572.3L1140.9 572.5L1141.9 572.7L1142.9 572.9L1143.9 573.0L1144.9 573.2L1145.9 573.4L1146.9 573.6L1147.9 573.8L1148.9 574.0L1149.9 574.1L1150.9 574.3L1151.9 574.5L1152.9 574.7L1153.9 574.9L1154.9 575.1L1155.9 575.3L1156.9 575.4L1157.9 575.6L1158.9 575.8L1159.9 576.0L1160.9 576.2L1161.9 576.3L1162.9 576.5L1163.9 576.7L1164.9 576.8L1165.9 577.0L1166.9 577.2L1167.9 577.3L1168.9 577.5L1169.9 577.7L1170.9 577.8L1171.9 578.0L1172.9 578.2L1173.9 578.4L1174.9 578.5L1175.9 578.7L1176.9 578.8L1177.9 579.0L1178.9 579.1L1179.9 579.2L1180.9 579.4L1181.9 579.5L1182.9 579.7L1183.9 579.8L1184.9 579.9L1185.9 580.1L1186.9 580.2L1187.9 580.4L1188.9 580.5L1189.9 580.6L1190.9 580.8L1191.9 580.9L1192.9 581.0L1193.9 581.1L1194.9 581.3L1195.9 581.4L1196.9 581.5L1197.9 581.7L1198.9 581.8L1199.9 582.0L1200.9 582.1L1201.9 582.3L1202.9 582.4L1203.9 582.6L1204.9 582.7L1205.9 582.8L1206.9 583.0L1207.9 583.1L1208.9 583.2L1209.9 583.4L1210.9 583.5L1211.9 583.6L1212.9 583.8L1213.9 583.9L1214.9 584.0L1215.9 584.1L1216.9 584.2L1217.9 584.3L1218.9 584.5L1219.9 584.6L1220.9 584.7L1221.9 584.8L1222.9 584.9L1223.9 585.0L1224.9 585.2L1225.9 585.3L1226.9 585.4L1227.9 585.5L1228.9 585.6L1229.9 585.7L1230.9 585.9L1231.9 586.0L1232.9 586.1L1233.9 586.2L1234.9 586.4L1235.9 586.5L1236.9 586.6L1237.9 586.7L1238.9 586.8L1239.9 586.9L1240.9 587.1L1241.9 587.2L1242.9 587.3L1243.9 587.5L1244.9 587.6L1245.9 587.7L1246.9 587.8L1247.9 587.9L1248.9 588.1L1249.9 588.2L1250.9 588.3L1251.9 588.4L1252.9 588.5L1253.9 588.6L1254.9 588.7L1255.9 588.8L1256.9 589.0L1257.9 589.1L1259.0 589.2L1260.0 589.3L1261.0 589.4L1262.0 589.5L1263.0 589.7L1264.0 589.8L1265.0 589.9L1266.0 590.0L1267.0 590.1L1268.0 590.2L1269.0 590.3L1270.0 590.4L1271.0 590.5L1272.0 590.6L1273.0 590.6L1274.0 590.7L1275.0 590.8L1276.0 590.9L1277.0 591.0L1278.0 591.0L1279.0 591.1L1280.0 591.2L1281.0 591.2L1282.0 591.3L1283.0 591.4L1284.0 591.4L1285.0 591.5L1286.0 591.5L1287.0 591.6L1288.0 591.6L1289.0 591.7L1290.0 591.7L1291.0 591.8L1292.0 591.8L1293.0 591.8L1294.0 591.9L1295.0 591.9L1296.0 591.9L1297.0 591.9L1298.0 592.0L1299.0 592.0L1300.0 592.0L1301.0 592.0L1302.0 592.0L1303.0 592.0L1304.0 592.0L1305.0 592.1L1306.0 592.1L1307.0 592.1L1308.0 592.1L1309.0 592.0L1310.0 592.0L1311.0 592.0L1312.0 592.0L1313.0 592.0L1314.0 592.0"/>
<path class="c" stroke="#c00000" stroke-linecap="round" d="M172.8 52.3L173.8 52.4L174.8 52.4L175.8 52.5L176.8 52.6L177.8 52.6L178.8 52.7L179.8 52.8L180.8 52.8L181.8 52.9L182.8 52.9L183.8 53.0L184.8 53.1L185.8 53.1L186.8 53.2L187.8 53.3L188.8 53.3L189.8 53.4L190.8 53.5L191.8 53.5L192.8 53.6L193.8 53.7L194.8 53.7L195.8 53.8L196.8 53.9L197.8 53.9L198.8 54.0L199.8 54.1L200.8 54.1L201.8 54.2L202.8 54.3L203.8 54.3L204.8 54.4L205.8 54.5L206.8 54.5L207.8 54.6L208.8 54.7L209.8 54.7L210.8 54.8L211.8 54.9L212.8 55.0L213.8 55.0L214.8 55.1L215.8 55.2L216.8 55.2L217.8 55.3L218.8 55.4L219.8 55.4L220.8 55.5L221.8 55.6L222.8 55.7L223.8 55.7L224.8 55.8L225.8 55.9L226.8 55.9L227.8 56.0L228.8 56.1L229.8 56.2L230.8 56.2L231.8 56.3L232.8 56.4L233.8 56.5L234.8 56.5L235.9 56.6L236.9 56.7L237.9 56.8L238.9 56.9L239.9 56.9L240.9 57.0L241.9 57.1L242.9 57.2L243.9 57.3L244.9 57.3L245.9 57.4L246.9 57.5L247.9 57.6L248.9 57.6L249.9 57.7L250.9 57.8L251.9 57.8L252.9 57.9L253.9 58.0L254.9 58.0L255.9 58.1L256.9 58.2L257.9 58.2L258.9 58.3L259.9 58.4L260.9 58.5L261.9 58.5L262.9 58.6L263.9 58.7L264.9 58.7L265.9 58.8L266.9 58.9L267.9 58.9L268.9 59.0L269.9 59.0L270.9 59.1L271.9 59.2L272.9 59.2L273.9 59.3L274.9 59.3L275.9 59.4L276.9 59.4L277.9 59.5L278.9 59.5L279.9 59.6L280.9 59.6L281.9 59.7L282.9 59.7L283.9 59.8L284.9 59.8L285.9 59.8L286.9 59.9L287.9 59.9L288.9 60.0L289.9 60.0L290.9 60.0L291.9 60.1L292.9 60.1L293.9 60.2L294.9 60.2L295.9 60.2L296.9 60.3L297.9 60.3L298.9 60.3L299.9 60.4L300.9 60.4L301.9 60.4L302.9 60.5L303.9 60.5L304.9 60.5L305.9 60.5L306.9 60.6L307.9 60.6L308.9 60.6L309.9 60.7L310.9 60.7L311.9 60.7L312.9 60.7L313.9 60.8L314.9 60.8L315.9 60.8L316.9 60.8L317.9 60.9L318.9 60.9L319.9 60.9L320.9 60.9L321.9 60.9L322.9 60.9L323.9 60.9L324.9 60.9L325.9 60.9L326.9 60.9L327.9 61.0L328.9 61.0L329.9 61.0L330.9 61.0L331.9 61.0L332.9 61.0L333.9 61.0L334.9 61.0L335.9 61.0L336.9 61.0L337.9 61.0L338.9 61.0L339.9 61.0L340.9 61.0L341.9 61.0L342.9 61.0L343.9 61.0L344.9 61.0L345.9 61.1L346.9 61.1L347.9 61.1L348.9 61.1L349.9 61.1L350.9 61.1L351.9 61.1L352.9 61.1L353.9 61.1L354.9 61.1L355.9 61.1L356.9 61.1L357.9 61.1L358.9 61.1L359.9 61.1L360.9 61.1L362.0 61.1L363.0 61.1L364.0 61.1L365.0 61.1L366.0 61.1L367.0 61.1L368.0 61.1L369.0 61.1L370.0 61.1L371.0 61.1L372.0 61.1L373.0 61.1L374.0 61.1L375.0 61.1L376.0 61.1L377.0 61.1L378.0 61.2L379.0 61.2L380.0 61.2L381.0 61.2L382.0 61.2L383.0 61.2L384.0 61.2L385.0 61.2L386.0 61.2L387.0 61.2L388.0 61.2L389.0 61.2L390.0 61.2L391.0 61.2L392.0 61.3L393.0 61.3L394.0 61.3L395.0 61.3L396.0 61.3L397.0 61.3L398.0 61.3L399.0 61.3L400.0 61.4L401.0 61.4L402.0 61.4L403.0 61.4L404.0 61.4L405.0 61.4L406.0 61.4L407.0 61.5L408.0 61.5L409.0 61.5L410.0 61.5L411.0 61.5L412.0 61.5L413.0 61.6L414.0 61.6L415.0 61.6L416.0 61.6L417.0 61.6L418.0 61.6L419.0 61.6L420.0 61.7L421.0 61.7L422.0 61.7L423.0 61.7L424.0 61.7L425.0 61.7L426.0 61.7L427.0 61.8L428.0 61.8L429.0 61.8L430.0 61.8L431.0 61.8L432.0 61.8L433.0 61.9L434.0 61.9L435.0 61.9L436.0 61.9L437.0 61.9L438.0 61.9L439.0 61.9L440.0 61.9L441.0 61.9L442.0 62.0L443.0 62.0L444.0 62.0L445.0 62.0L446.0 62.0L447.0 62.0L448.0 62.0L449.0 62.1L450.0 62.1L451.0 62.1L452.0 62.1L453.0 62.1L454.0 62.1L455.0 62.2L456.0 62.2L457.0 62.2L458.0 62.2L459.0 62.2L460.0 62.2L461.0 62.3L462.0 62.3L463.0 62.3L464.0 62.3L465.0 62.3L466.0 62.4L467.0 62.4L468.0 62.4L469.0 62.4L470.0 62.5L471.0 62.5L472.0 62.5L473.0 62.5L474.0 62.5L475.0 62.6L476.0 62.6L477.0 62.6L478.0 62.6L479.0 62.6L480.0 62.7L481.0 62.7L482.0 62.7L483.0 62.7L484.0 62.8L485.0 62.8L486.0 62.8L487.1 62.8L488.1 62.9L489.1 62.9L490.1 62.9L491.1 62.9L492.1 63.0L493.1 63.0L494.1 63.0L495.1 63.1L496.1 63.1L497.1 63.1L498.1 63.1L499.1 63.2L500.1 63.2L501.1 63.2L502.1 63.3L503.1 63.3L504.1 63.3L505.1 63.4L506.1 63.4L507.1 63.5L508.1 63.5L509.1 63.5L510.1 63.5L511.1 63.6L512.1 63.6L513.1 63.7L514.1 63.7L515.1 63.7L516.1 63.8L517.1 63.8L518.1 63.8L519.1 63.9L520.1 63.9L521.1 63.9L522.1 64.0L523.1 64.0L524.1 64.0L525.1 64.1L526.1 64.1L527.1 64.1L528.1 64.2L529.1 64.2L530.1 64.2L531.1 64.3L532.1 64.3L533.1 64.4L534.1 64.4L535.1 64.5L536.1 64.5L537.1 64.5L538.1 64.6L539.1 64.6L540.1 64.7L541.1 64.7L542.1 64.8L543.1 64.8L544.1 64.9L545.1 64.9L546.1 65.0L547.1 65.0L548.1 65.1L549.1 65.1L550.1 65.2L551.1 65.2L552.1 65.3L553.1 65.3L554.1 65.4L555.1 65.4L556.1 65.5L557.1 65.5L558.1 65.5L559.1 65.6L560.1 65.7L561.1 65.8L562.1 65.9L563.1 66.0L564.1 66.0L565.1 66.1L566.1 66.2L567.1 66.3L568.1 66.3L569.1 66.4L570.1 66.5L571.1 66.6L572.1 66.7L573.1 66.8L574.1 66.9L575.1 67.0L576.1 67.2L577.1 67.3L578.1 67.4L579.1 67.6L580.1 67.7L581.1 67.9L582.1 68.0L583.1 68.2L584.1 68.3L585.1 68.5L586.1 68.7L587.1 68.8L588.1 69.0L589.1 69.2L590.1 69.4L591.1 69.5L592.1 69.7L593.1 69.9L594.1 70.1L595.1 70.3L596.1 70.5L597.1 70.8L598.1 71.0L599.1 71.2L600.1 71.5L601.1 71.7L602.1 72.0L603.1 72.3L604.1 72.6L605.1 72.8L606.1 73.1L607.1 73.4L608.1 73.7L609.1 74.0L610.1 74.3L611.1 74.5L612.1 74.9L613.2 75.2L614.2 75.6L615.2 75.9L616.2 76.3L617.2 76.7L618.2 77.1L619.2 77.5L620.2 77.9L621.2 78.3L622.2 78.7L623.2 79.2L624.2 79.6L625.2 80.1L626.2 80.7L627.2 81.2L628.2 81.8L629.2 82.4L630.2 83.0L631.2 83.6L632.2 84.2L633.2 84.9L634.2 85.6L635.2 86.3L636.2 87.0L637.2 87.8L638.2 88.6L639.2 89.4L640.2 90.2L641.2 91.1L642.2 92.0L643.2 92.9L644.2 93.8L645.2 94.8L646.2 95.7L647.2 96.7L648.2 97.7L649.2 98.7L650.2 99.7L651.2 100.7L652.2 101.8L653.2 102.8L654.2 103.9L655.2 105.0L656.2 106.0L657.2 107.1L658.2 108.2L659.2 109.2L660.2 110.3L661.2 111.3L662.2 112.4L663.2 113.5L664.2 114.5L665.2 115.6L666.2 116.7L667.2 117.7L668.2 118.8L669.2 119.8L670.2 120.9L671.2 121.9L672.2 122.8L673.2 123.6L674.2 124.3L675.2 124.8L676.2 125.4L677.2 125.8L678.2 126.1L679.2 126.3L680.2 126.5L681.2 126.6L682.2 126.7L683.2 126.8L684.2 127.0L685.2 127.0L686.2 127.1L687.2 127.2L688.2 127.3L689.2 127.4L690.2 127.5L691.2 127.6L692.2 127.7L693.2 127.8L694.2 127.8L695.2 127.9L696.2 128.0L697.2 128.1L698.2 128.1L699.2 128.2L700.2 128.3L701.2 128.3L702.2 128.4L703.2 128.4L704.2 128.5L705.2 128.6L706.2 128.6L707.2 128.7L708.2 128.7L709.2 128.8L710.2 128.8L711.2 128.8L712.2 128.9L713.2 128.9L714.2 129.0L715.2 129.0L716.2 129.0L717.2 129.0L718.2 129.1L719.2 129.1L720.2 129.1L721.2 129.1L722.2 129.1L723.2 129.2L724.2 129.2L725.2 129.2L726.2 129.2L727.2 129.2L728.2 129.2L729.2 129.3L730.2 129.3L731.2 129.3L732.2 129.3L733.2 129.4L734.2 129.4L735.2 129.4L736.2 129.4L737.2 129.5L738.2 129.5L739.2 129.5L740.2 129.6L741.2 129.6L742.2 129.6L743.2 129.6L744.2 129.6L745.2 129.7L746.2 129.7L747.2 129.7L748.2 129.7L749.2 129.7L750.2 129.8L751.2 129.8L752.2 129.8L753.2 129.8L754.2 129.8L755.2 129.8L756.2 129.9L757.2 129.9L758.2 129.9L759.2 129.9L760.2 130.0L761.2 130.0L762.2 130.0L763.2 130.0L764.2 130.1L765.2 130.1L766.1 130.1L767.1 130.2L768.1 130.2L769.1 130.2L770.1 130.2L771.1 130.3L772.1 130.3L773.1 130.3L774.1 130.3L775.1 130.4L776.1 130.4L777.1 130.4L778.1 130.5L779.1 130.5L780.1 130.5L781.1 130.6L782.1 130.6L783.1 130.7L784.1 130.7L785.1 130.7L786.1 130.8L787.1 130.8L788.1 130.9L789.1 130.9L790.1 130.9L791.1 131.0L792.1 131.0L793.1 131.1L794.1 131.1L795.1 131.2L796.1 131.2L797.1 131.3L798.1 131.3L799.1 131.4L800.1 131.4L801.1 131.5L802.1 131.5L803.1 131.6L804.1 131.6L805.1 131.7L806.1 131.7L807.1 131.8L808.1 131.8L809.1 131.9L810.1 131.9L811.1 132.0L812.1 132.0L813.1 132.1L814.1 132.1L815.1 132.2L816.1 132.2L817.1 132.3L818.1 132.4L819.1 132.4L820.1 132.5L821.1 132.5L822.1 132.6L823.1 132.6L824.1 132.7L825.1 132.7L826.1 132.8L827.1 132.9L828.1 132.9L829.1 133.0L830.1 133.0L831.1 133.1L832.1 133.1L833.1 133.2L834.1 133.3L835.1 133.3L836.1 133.4L837.1 133.4L838.1 133.5L839.1 133.6L840.1 133.6L841.1 133.7L842.1 133.7L843.1 133.8L844.1 133.8L845.1 133.9L846.1 133.9L847.1 134.0L848.1 134.0L849.1 134.0L850.1 134.1L851.1 134.1L852.1 134.2L853.1 134.2L854.1 134.3L855.1 134.3L856.1 134.4L857.1 134.4L858.1 134.5L859.1 134.5L860.1 134.6L861.1 134.7L862.1 134.7L863.1 134.8L864.1 134.8L865.1 134.8L866.1 134.9L867.1 134.9L868.1 135.0L869.1 135.0L870.1 135.1L871.1 135.1L872.1 135.2L873.1 135.2L874.1 135.3L875.1 135.3L876.1 135.4L877.1 135.4L878.1 135.5L879.1 135.6L880.1 135.6L881.1 135.7L882.1 135.7L883.1 135.8L884.1 135.9L885.1 135.9L886.1 136.0L887.1 136.1L888.1 136.2L889.1 136.2L890.1 136.3L891.1 136.4L892.1 136.4L893.1 136.5L894.1 136.6L895.1 136.7L896.1 136.7L897.1 136.8L898.1 136.9L899.1 137.0L900.1 137.1L901.1 137.2L902.1 137.2L903.1 137.3L904.1 137.4L905.1 137.5L906.1 137.6L907.1 137.7L908.1 137.8L909.1 137.9L910.1 138.0L911.1 138.1L912.1 138.2L913.1 138.3L914.1 138.4L915.1 138.5L916.1 138.7L917.1 138.8L918.1 138.9L919.1 139.0L920.1 139.1L921.1 139.2L922.1 139.3L923.1 139.5L924.1 139.6L925.1 139.8L926.1 139.9L927.1 140.1L928.1 140.2L929.1 140.4L930.1 140.5L931.1 140.7L932.1 140.8L933.1 140.9L934.1 141.1L935.1 141.3L936.1 141.5L937.1 141.7L938.1 141.8L939.1 142.0L940.1 142.2L941.1 142.4L942.1 142.7L943.1 142.9L944.1 143.1L945.1 143.3L946.1 143.6L947.1 143.8L948.0 144.1L949.0 144.3L950.0 144.5L951.0 144.8L952.0 145.0L953.0 145.3L954.0 145.6L955.0 145.9L956.0 146.1L957.0 146.4L958.0 146.7L959.0 147.0L960.0 147.3L961.0 147.7L962.0 148.0L963.0 148.3L964.0 148.7L965.0 149.0L966.0 149.3L967.0 149.7L968.0 150.1L969.0 150.4L970.0 150.8L971.0 151.2L972.0 151.5L973.0 151.9L974.0 152.3L975.0 152.8L976.0 153.2L977.0 153.6L978.0 154.0L979.0 154.4L980.0 154.9L981.0 155.3L982.0 155.7L983.0 156.2L984.0 156.7L985.0 157.1L986.0 157.6L987.0 158.1L988.0 158.6L989.0 159.1L990.0 159.6L991.0 160.1L992.0 160.6L993.0 161.1L994.0 161.6L995.0 162.2L996.0 162.7L997.0 163.2L998.0 163.7L999.0 164.3L1000.0 164.8L1001.0 165.4L1002.0 165.9L1003.0 166.5L1004.0 167.0L1005.0 167.5L1006.0 168.1L1007.0 168.7L1008.0 169.2L1009.0 169.8L1010.0 170.3L1011.0 170.9L1012.0 171.4L1013.0 172.0L1014.0 172.5L1015.0 173.1L1016.0 173.6L1017.0 174.2L1018.0 174.7L1019.0 175.3L1020.0 175.8L1021.0 176.4L1022.0 177.0L1023.0 177.5L1024.0 178.1L1025.0 178.6L1026.0 179.2L1027.0 179.7L1028.0 180.3L1029.0 180.8L1030.0 181.3L1031.0 181.9L1032.0 182.4L1033.0 182.8L1034.0 183.3L1035.0 183.7L1036.0 184.1L1037.0 184.4L1038.0 184.7L1039.0 185.0L1040.0 185.2L1041.0 185.5L1042.0 185.7L1043.0 185.9L1044.0 186.0L1045.0 186.2L1046.0 186.3L1047.0 186.5L1048.0 186.6L1049.0 186.7L1050.0 186.9L1051.0 187.0L1052.0 187.1L1053.0 187.2L1054.0 187.3L1055.0 187.4L1056.0 187.5L1057.0 187.6L1058.0 187.7L1059.0 187.8L1060.0 187.9L1061.0 188.0L1062.0 188.1L1063.0 188.2L1064.0 188.3L1065.0 188.4L1066.0 188.5L1067.0 188.6L1068.0 188.7L1069.0 188.8L1070.0 188.9L1071.0 188.9L1072.0 189.0L1073.0 189.1L1074.0 189.2L1075.0 189.2L1076.0 189.3L1077.0 189.4L1078.0 189.4L1079.0 189.5L1080.0 189.5L1081.0 189.6L1082.0 189.7L1083.0 189.7L1084.0 189.8L1085.0 189.8L1086.0 189.9L1087.0 190.0L1088.0 190.0L1089.0 190.1L1090.0 190.1L1091.0 190.2L1092.0 190.3L1093.0 190.3L1094.0 190.4L1095.0 190.5L1096.0 190.5L1097.0 190.6L1098.0 190.6L1099.0 190.7L1100.0 190.7L1101.0 190.8L1102.0 190.9L1103.0 190.9L1104.0 191.0L1105.0 191.0L1106.0 191.0L1107.0 191.1L1108.0 191.1L1109.0 191.2L1110.0 191.3L1111.0 191.3L1112.0 191.4L1113.0 191.5L1114.0 191.5L1115.0 191.6L1116.0 191.6L1117.0 191.7L1118.0 191.8L1119.0 191.8L1120.0 191.9L1121.0 192.0L1122.0 192.1L1123.0 192.1L1124.0 192.2L1125.0 192.3L1126.0 192.4L1127.0 192.4L1128.0 192.5L1129.0 192.6L1130.0 192.7L1131.0 192.8L1132.0 192.9L1133.0 192.9L1134.0 193.0L1135.0 193.1L1136.0 193.2L1137.0 193.3L1138.0 193.4L1139.0 193.5L1140.0 193.6L1141.0 193.7L1142.0 193.8L1143.0 193.9L1144.0 193.9L1145.0 194.0L1146.0 194.1L1147.0 194.2L1148.0 194.3L1149.0 194.4L1150.0 194.5L1151.0 194.6L1152.0 194.8L1153.0 194.9L1154.0 195.0L1155.0 195.1L1156.0 195.2L1157.0 195.3L1158.0 195.5L1159.0 195.6L1160.0 195.7L1161.0 195.8L1162.0 196.0L1163.0 196.1L1164.0 196.2L1165.0 196.4L1166.0 196.5L1167.0 196.7L1168.0 196.8L1169.0 197.0L1170.0 197.2L1171.0 197.3L1172.0 197.5L1173.0 197.6L1174.0 197.8L1175.0 198.0L1176.0 198.1L1177.0 198.3L1178.0 198.4L1179.0 198.6L1180.0 198.8L1181.0 198.9L1182.0 199.1L1183.0 199.3L1184.0 199.4L1185.0 199.6L1186.0 199.8L1187.0 200.0L1188.0 200.1L1189.0 200.3L1190.0 200.6L1191.0 200.8L1192.0 201.0L1193.0 201.2L1194.0 201.4L1195.0 201.6L1196.0 201.8L1197.0 202.0L1198.0 202.2L1199.0 202.4L1200.0 202.6L1201.0 202.8L1202.0 202.9L1203.0 203.1L1204.0 203.3L1205.0 203.5L1206.0 203.7L1207.0 203.9L1208.0 204.0L1209.0 204.2L1210.0 204.4L1211.0 204.6L1212.0 204.8L1213.0 204.9L1214.0 205.1L1215.0 205.3L1216.0 205.4L1217.0 205.6L1218.0 205.8L1219.0 205.9L1220.0 206.1L1221.0 206.3L1222.0 206.5L1223.0 206.6L1224.0 206.8L1225.0 207.0L1226.0 207.2L1227.0 207.3L1228.0 207.5L1229.0 207.6L1230.0 207.7L1231.0 207.9L1232.0 208.0L1233.0 208.1L1234.0 208.3L1235.0 208.4L1236.0 208.5L1237.0 208.7L1238.0 208.8L1239.0 208.9L1240.0 209.0L1241.0 209.2L1242.0 209.3L1243.0 209.4L1244.0 209.5L1245.0 209.6L1246.0 209.6L1247.0 209.7L1248.0 209.8L1249.0 209.9L1250.0 210.0L1251.0 210.1L1252.0 210.2L1253.0 210.3L1254.0 210.4L1255.0 210.5L1256.0 210.6L1257.0 210.7L1258.0 210.8L1259.0 210.9L1260.0 211.0L1261.0 211.0L1262.0 211.1L1263.0 211.2L1264.0 211.3L1265.0 211.4L1266.0 211.5L1267.0 211.6L1268.0 211.6L1269.0 211.7L1270.0 211.8L1271.0 211.9L1272.0 212.0L1273.0 212.1L1274.0 212.1L1275.0 212.2L1276.0 212.3L1277.0 212.4L1278.0 212.4L1279.0 212.5L1280.0 212.6L1281.0 212.6L1282.0 212.7L1283.0 212.8L1284.0 212.8L1285.0 212.9L1286.0 213.0L1287.0 213.0L1288.0 213.1L1289.0 213.2L1290.0 213.2L1291.0 213.3L1292.0 213.4L1293.0 213.4L1294.0 213.5L1295.0 213.5L1296.0 213.6L1297.0 213.6L1298.0 213.7L1299.0 213.8L1300.0 213.8L1301.0 213.9L1302.0 213.9L1303.0 214.0L1304.0 214.0L1305.0 214.1L1306.0 214.1L1307.0 214.2"/>
<path class="c" stroke="#0070c0" stroke-linecap="butt" d="M167.6 52.4L167.5 54.3L169.2 55.0L170.2 55.1L171.2 55.2L172.2 55.3L173.2 55.4L174.2 55.5L175.2 55.5L176.2 55.6L177.2 55.7L178.2 55.8L179.2 55.9L180.2 56.0L181.2 56.1L182.2 56.2L183.2 56.4L184.2 56.5L185.2 56.6L186.2 56.7L187.2 56.8L188.2 56.9L189.2 57.1L190.2 57.2L191.2 57.3L192.2 57.5L193.2 57.6L194.2 57.7L195.2 57.9L196.2 58.0L197.2 58.2L198.2 58.3L199.2 58.4L200.2 58.6L201.2 58.7L202.2 58.9L203.2 59.0L204.2 59.2L205.2 59.4L206.2 59.5L207.2 59.7L208.2 59.9L209.2 60.1L210.2 60.3L211.2 60.4L212.2 60.6L213.2 60.8L214.2 61.0L215.2 61.2L216.2 61.4L217.2 61.6L218.2 61.9L219.2 62.1L220.2 62.3L221.2 62.6L222.2 62.8L223.2 63.1L224.2 63.4L225.2 63.7L226.2 64.0L227.2 64.3L228.2 64.6L229.2 64.9L230.2 65.3L231.2 65.7L232.2 66.0L233.2 66.4L234.2 66.8L235.2 67.2L236.2 67.6L237.2 68.1L238.2 68.6L239.2 69.1L240.2 69.6L241.2 70.1L242.2 70.7L243.2 71.3L244.2 71.9L245.2 72.5L246.2 73.2L247.2 73.8L248.2 74.5L249.2 75.2L250.2 75.9L251.2 76.7L252.2 77.4L253.2 78.2L254.2 79.0L255.2 79.8L256.2 80.6L257.2 81.4L258.2 82.3L259.2 83.1L260.2 84.0L261.2 84.9L262.2 85.8L263.2 86.7L264.2 87.6L265.2 88.5L266.2 89.4L267.2 90.4L268.2 91.3L269.2 92.3L270.2 93.3L271.2 94.2L272.2 95.2L273.2 96.2L274.2 97.3L275.2 98.3L276.2 99.4L277.2 100.5L278.2 101.6L279.2 102.7L280.2 103.7L281.2 104.7L282.2 105.8L283.2 106.8L284.2 107.8L285.2 108.7L286.2 109.7L287.2 110.7L288.2 111.7L289.2 112.6L290.2 113.6L291.2 114.5L292.2 115.4L293.2 116.3L294.2 117.2L295.2 118.1L296.2 118.9L297.2 119.8L298.2 120.6L299.2 121.4L300.2 122.1L301.2 122.8L302.2 123.5L303.2 124.2L304.2 124.9L305.2 125.7L306.2 126.4L307.2 127.1L308.2 127.8L309.2 128.5L310.2 129.1L311.2 129.8L312.2 130.5L313.2 131.1L314.2 131.8L315.2 132.4L316.2 133.1L317.2 133.8L318.2 134.4L319.2 135.1L320.2 135.9L321.2 136.6L322.2 137.3L323.2 138.0L324.2 138.7L325.2 139.5L326.2 140.2L327.2 140.9L328.2 141.6L329.2 142.4L330.2 143.2L331.2 143.9L332.2 144.7L333.2 145.5L334.2 146.4L335.2 147.2L336.2 148.1L337.2 148.9L338.2 149.8L339.2 150.7L340.2 151.6L341.2 152.5L342.2 153.4L343.2 154.3L344.2 155.2L345.2 156.1L346.2 157.0L347.2 158.0L348.2 158.9L349.2 159.9L350.2 160.8L351.2 161.8L352.2 162.7L353.2 163.7L354.2 164.6L355.2 165.5L356.2 166.4L357.2 167.3L358.2 168.3L359.2 169.2L360.2 170.1L361.2 171.0L362.2 171.8L363.2 172.7L364.2 173.6L365.2 174.4L366.2 175.3L367.2 176.1L368.2 176.9L369.2 177.7L370.2 178.5L371.2 179.3L372.2 180.1L373.2 180.9L374.2 181.6L375.2 182.4L376.2 183.1L377.2 183.8L378.2 184.5L379.2 185.2L380.2 185.9L381.2 186.6L382.2 187.2L383.2 187.9L384.2 188.5L385.2 189.2L386.2 189.8L387.2 190.4L388.2 191.0L389.2 191.6L390.2 192.2L391.2 192.8L392.2 193.4L393.2 193.9L394.2 194.5L395.2 195.1L396.2 195.6L397.2 196.2L398.2 196.7L399.2 197.3L400.2 197.8L401.2 198.4L402.2 198.9L403.2 199.5L404.2 200.0L405.2 200.6L406.2 201.1L407.2 201.7L408.2 202.2L409.2 202.7L410.2 203.3L411.2 203.8L412.2 204.3L413.2 204.9L414.2 205.4L415.2 205.9L416.2 206.4L417.2 206.9L418.2 207.4L419.2 207.9L420.2 208.4L421.2 208.8L422.2 209.3L423.2 209.8L424.2 210.3L425.2 210.8L426.2 211.2L427.2 211.7L428.2 212.1L429.2 212.6L430.2 213.0L431.2 213.4L432.2 213.8L433.2 214.2L434.2 214.7L435.2 215.1L436.2 215.5L437.2 215.9L438.2 216.4L439.2 216.8L440.2 217.2L441.2 217.6L442.2 218.1L443.2 218.5L444.2 218.9L445.2 219.3L446.2 219.7L447.2 220.1L448.2 220.5L449.2 220.9L450.2 221.3L451.2 221.7L452.2 222.1L453.2 222.5L454.2 222.9L455.2 223.3L456.2 223.7L457.3 224.1L458.3 224.4L459.3 224.8L460.3 225.2L461.3 225.6L462.3 225.9L463.3 226.3L464.3 226.7L465.3 227.0L466.3 227.4L467.3 227.7L468.3 228.1L469.3 228.5L470.3 228.8L471.3 229.1L472.3 229.5L473.3 229.9L474.3 230.2L475.3 230.6L476.3 231.0L477.3 231.4L478.3 231.7L479.3 232.1L480.3 232.4L481.3 232.8L482.3 233.1L483.3 233.5L484.3 233.8L485.3 234.1L486.3 234.4L487.3 234.8L488.3 235.1L489.3 235.4L490.3 235.8L491.3 236.1L492.3 236.4L493.3 236.7L494.3 237.1L495.3 237.4L496.3 237.7L497.3 238.1L498.3 238.4L499.3 238.7L500.3 239.1L501.3 239.4L502.3 239.8L503.3 240.2L504.3 240.5L505.3 240.9L506.3 241.3L507.3 241.7L508.3 242.0L509.3 242.4L510.3 242.8L511.3 243.2L512.3 243.6L513.3 244.0L514.3 244.4L515.3 244.9L516.3 245.2L517.3 245.6L518.3 246.0L519.3 246.3L520.3 246.7L521.3 247.0L522.3 247.3L523.3 247.6L524.3 247.9L525.3 248.2L526.3 248.5L527.3 248.8L528.3 249.1L529.3 249.4L530.3 249.7L531.3 249.9L532.3 250.2L533.3 250.5L534.3 250.8L535.3 251.1L536.3 251.4L537.3 251.7L538.3 252.0L539.3 252.3L540.3 252.6L541.3 252.9L542.3 253.2L543.3 253.5L544.3 253.8L545.3 254.1L546.3 254.4L547.3 254.7L548.3 255.0L549.3 255.3L550.3 255.6L551.3 255.9L552.3 256.2L553.3 256.4L554.3 256.7L555.3 257.0L556.3 257.3L557.3 257.6L558.3 257.9L559.3 258.3L560.3 258.6L561.3 258.9L562.3 259.2L563.3 259.5L564.3 259.8L565.3 260.1L566.3 260.4L567.3 260.6L568.3 260.9L569.3 261.2L570.3 261.5L571.3 261.8L572.3 262.1L573.3 262.3L574.3 262.6L575.3 263.0L576.3 263.3L577.3 263.6L578.3 263.9L579.3 264.2L580.3 264.5L581.3 264.9L582.3 265.2L583.3 265.5L584.3 265.8L585.3 266.2L586.3 266.5L587.3 266.8L588.3 267.1L589.3 267.5L590.3 267.8L591.3 268.2L592.3 268.5L593.3 268.8L594.3 269.2L595.3 269.5L596.3 269.8L597.3 270.2L598.3 270.5L599.3 270.8L600.3 271.1L601.3 271.5L602.3 271.8L603.3 272.1L604.3 272.5L605.3 272.8L606.3 273.2L607.3 273.5L608.3 273.8L609.3 274.2L610.3 274.5L611.3 274.8L612.3 275.2L613.3 275.5L614.3 275.8L615.3 276.2L616.3 276.5L617.3 276.8L618.3 277.2L619.3 277.5L620.3 277.8L621.3 278.2L622.3 278.5L623.3 278.8L624.3 279.1L625.3 279.4L626.3 279.7L627.3 280.0L628.3 280.3L629.3 280.6L630.3 280.9L631.3 281.2L632.3 281.5L633.3 281.8L634.3 282.1L635.3 282.3L636.3 282.6L637.3 282.9L638.3 283.2L639.3 283.4L640.3 283.7L641.3 284.0L642.3 284.3L643.3 284.5L644.3 284.8L645.3 285.1L646.3 285.3L647.3 285.6L648.3 285.8L649.3 286.1L650.3 286.4L651.3 286.6L652.3 286.9L653.3 287.2L654.3 287.4L655.3 287.7L656.3 287.9L657.3 288.2L658.3 288.4L659.3 288.7L660.3 288.9L661.3 289.1L662.3 289.3L663.3 289.6L664.3 289.8L665.3 290.1L666.3 290.3L667.3 290.5L668.3 290.8L669.3 291.1L670.3 291.3L671.3 291.6L672.3 291.8L673.3 292.1L674.3 292.4L675.3 292.7L676.3 293.0L677.3 293.3L678.3 293.5L679.3 293.7L680.3 293.9L681.3 294.1L682.3 294.3L683.3 294.6L684.3 294.8L685.3 295.0L686.3 295.2L687.3 295.4L688.3 295.7L689.3 296.0L690.3 296.3L691.3 296.7L692.3 297.1L693.3 297.4L694.3 297.7L695.3 298.1L696.3 298.6L697.3 299.1L698.3 299.7L699.3 300.3L700.3 300.9L701.3 301.5L702.3 302.2L703.3 302.9L704.3 303.6L705.3 304.4L706.3 305.2L707.3 306.0L708.3 306.9L709.3 307.7L710.3 308.6L711.3 309.6L712.3 310.5L713.3 311.5L714.3 312.5L715.3 313.6L716.3 314.6L717.3 315.7L718.3 316.8L719.3 318.0L720.3 319.2L721.3 320.4L722.3 321.6L723.3 322.9L724.3 324.2L725.3 325.4L726.3 326.7L727.3 328.0L728.3 329.3L729.3 330.5L730.3 331.8L731.3 333.1L732.3 334.4L733.3 335.8L734.3 337.1L735.3 338.4L736.3 339.7L737.3 340.9L738.3 342.2L739.3 343.4L740.3 344.6L741.3 345.7L742.3 346.8L743.3 347.7L744.3 348.5L745.3 349.3L746.3 350.0L747.3 350.5L748.3 350.9L749.3 351.3L750.3 351.6L751.3 351.8L752.3 352.1L753.3 352.3L754.3 352.6L755.3 352.8L756.3 353.0L757.3 353.2L758.3 353.5L759.3 353.7L760.3 353.9L761.3 354.1L762.3 354.3L763.3 354.5L764.3 354.7L765.3 354.9L766.3 355.1L767.3 355.3L768.3 355.5L769.3 355.7L770.3 355.9L771.3 356.0L772.3 356.2L773.3 356.4L774.3 356.6L775.3 356.7L776.3 356.9L777.3 357.1L778.3 357.2L779.3 357.4L780.3 357.5L781.3 357.7L782.3 357.8L783.3 357.9L784.3 358.1L785.3 358.2L786.3 358.4L787.3 358.5L788.3 358.6L789.3 358.8L790.3 358.9L791.3 359.0L792.3 359.1L793.3 359.3L794.3 359.4L795.3 359.5L796.3 359.6L797.3 359.7L798.3 359.8L799.3 360.0L800.3 360.1L801.3 360.2L802.3 360.3L803.3 360.4L804.3 360.5L805.3 360.6L806.3 360.7L807.3 360.9L808.3 361.0L809.3 361.1L810.3 361.2L811.3 361.3L812.3 361.4L813.3 361.5L814.3 361.6L815.3 361.7L816.3 361.8L817.3 361.9L818.3 362.0L819.3 362.1L820.3 362.2L821.3 362.3L822.3 362.4L823.3 362.5L824.3 362.6L825.3 362.7L826.3 362.8L827.3 362.9L828.3 363.0L829.2 363.1L830.2 363.2L831.2 363.3L832.2 363.4L833.2 363.5L834.2 363.6L835.2 363.7L836.2 363.8L837.2 363.9L838.2 364.0L839.2 364.1L840.2 364.2L841.2 364.3L842.2 364.4L843.2 364.5L844.2 364.7L845.2 364.8L846.2 364.9L847.2 365.0L848.2 365.1L849.2 365.2L850.2 365.3L851.2 365.4L852.2 365.5L853.2 365.7L854.2 365.8L855.2 365.9L856.2 366.1L857.2 366.2L858.2 366.3L859.2 366.4L860.2 366.6L861.2 366.7L862.2 366.8L863.2 366.9L864.2 367.1L865.2 367.2L866.2 367.3L867.2 367.4L868.2 367.6L869.2 367.7L870.2 367.8L871.2 368.0L872.2 368.1L873.2 368.2L874.2 368.3L875.2 368.5L876.2 368.6L877.2 368.7L878.2 368.8L879.2 369.0L880.2 369.1L881.2 369.2L882.2 369.4L883.2 369.5L884.2 369.6L885.2 369.8L886.2 369.9L887.2 370.0L888.2 370.2L889.2 370.3L890.2 370.5L891.2 370.6L892.2 370.7L893.2 370.9L894.2 371.0L895.2 371.1L896.2 371.3L897.2 371.4L898.2 371.6L899.2 371.7L900.2 371.8L901.2 372.0L902.2 372.1L903.2 372.3L904.2 372.4L905.2 372.6L906.2 372.7L907.2 372.9L908.2 373.0L909.2 373.2L910.2 373.3L911.2 373.5L912.2 373.6L913.2 373.8L914.2 373.9L915.2 374.0L916.2 374.2L917.2 374.3L918.2 374.5L919.2 374.6L920.2 374.8L921.2 374.9L922.2 375.1L923.2 375.2L924.2 375.4L925.2 375.6L926.2 375.7L927.2 375.9L928.2 376.1L929.2 376.2L930.2 376.4L931.2 376.6L932.2 376.7L933.2 376.9L934.2 377.1L935.2 377.3L936.2 377.5L937.2 377.6L938.2 377.8L939.2 378.0L940.2 378.2L941.2 378.4L942.2 378.6L943.2 378.8L944.2 379.0L945.2 379.2L946.2 379.5L947.2 379.7L948.2 379.9L949.2 380.1L950.2 380.4L951.2 380.6L952.2 380.8L953.2 381.0L954.2 381.3L955.2 381.5L956.2 381.7L957.2 382.0L958.2 382.2L959.2 382.5L960.2 382.7L961.2 383.0L962.2 383.2L963.2 383.5L964.2 383.7L965.2 384.0L966.2 384.3L967.2 384.5L968.2 384.8L969.2 385.1L970.2 385.4L971.2 385.6L972.2 385.9L973.2 386.2L974.2 386.5L975.2 386.8L976.2 387.1L977.2 387.4L978.2 387.7L979.2 388.0L980.2 388.3L981.2 388.6L982.2 388.9L983.2 389.2L984.2 389.6L985.2 389.9L986.2 390.2L987.2 390.6L988.2 390.9L989.2 391.3L990.2 391.6L991.2 392.0L992.2 392.4L993.2 392.7L994.2 393.1L995.2 393.5L996.2 393.9L997.2 394.2L998.2 394.6L999.1 395.0L1000.1 395.4L1001.1 395.7L1002.1 396.1L1003.1 396.5L1004.1 396.9L1005.1 397.3L1006.1 397.7L1007.1 398.2L1008.1 398.6L1009.1 398.9L1010.1 399.3L1011.1 399.7L1012.1 400.1L1013.1 400.5L1014.1 401.0L1015.1 401.4L1016.1 401.7L1017.1 402.1L1018.1 402.5L1019.1 403.0L1020.1 403.5L1021.1 404.0L1022.1 404.5L1023.1 405.0L1024.1 405.5L1025.1 406.0L1026.1 406.4L1027.1 406.9L1028.1 407.3L1029.1 407.8L1030.1 408.3L1031.1 408.8L1032.1 409.3L1033.1 409.9L1034.1 410.5L1035.1 411.1L1036.1 411.7L1037.1 412.4L1038.1 413.0L1039.1 413.7L1040.1 414.4L1041.1 415.1L1042.1 415.9L1043.1 416.6L1044.1 417.3L1045.1 418.1L1046.1 418.8L1047.1 419.6L1048.1 420.3L1049.1 421.1L1050.1 422.0L1051.1 422.8L1052.1 423.6L1053.1 424.5L1054.1 425.4L1055.1 426.3L1056.1 427.2L1057.1 428.2L1058.1 429.2L1059.1 430.2L1060.1 431.2L1061.1 432.2L1062.1 433.3L1063.1 434.3L1064.1 435.4L1065.1 436.5L1066.1 437.7L1067.1 438.8L1068.1 440.0L1069.1 441.2L1070.1 442.4L1071.1 443.6L1072.1 444.9L1073.1 446.2L1074.1 447.4L1075.1 448.8L1076.1 450.1L1077.1 451.4L1078.1 452.8L1079.1 454.2L1080.1 455.6L1081.1 457.0L1082.1 458.5L1083.1 459.9L1084.1 461.4L1085.1 462.9L1086.1 464.4L1087.1 465.9L1088.1 467.4L1089.1 468.9L1090.1 470.4L1091.1 472.0L1092.1 473.5L1093.1 475.1L1094.1 476.7L1095.1 478.3L1096.1 479.8L1097.1 481.4L1098.1 483.0L1099.1 484.6L1100.1 486.2L1101.1 487.8L1102.1 489.5L1103.1 491.1L1104.1 492.7L1105.1 494.4L1106.1 496.0L1107.1 497.7L1108.1 499.3L1109.1 501.0L1110.1 502.7L1111.1 504.3L1112.1 506.1L1113.1 507.8L1114.1 509.5L1115.1 511.3L1116.1 513.1L1117.1 514.8L1118.1 516.5L1119.1 518.2L1120.1 519.9L1121.1 521.6L1122.1 523.2L1123.1 524.9L1124.1 526.5L1125.1 528.0L1126.1 529.5L1127.1 531.0L1128.1 532.5L1129.1 533.9L1130.1 535.2L1131.1 536.5L1132.1 537.8L1133.1 538.9L1134.1 540.0L1135.1 541.0L1136.1 541.9L1137.1 542.8L1138.1 543.6L1139.1 544.3L1140.1 545.0L1141.1 545.6L1142.1 546.0L1143.1 546.5L1144.1 546.9L1145.1 547.4L1146.1 547.8L1147.1 548.0L1148.1 548.2L1149.1 548.4L1150.1 548.6L1151.1 548.7L1152.1 548.9L1153.1 549.1L1154.1 549.3L1155.1 549.5L1156.1 549.6L1157.1 549.7L1158.1 549.9L1159.1 550.0L1160.1 550.1L1161.1 550.2L1162.1 550.3L1163.1 550.5L1164.1 550.6L1165.1 550.8L1166.1 550.9L1167.1 551.0L1168.1 551.1L1169.0 551.2L1170.0 551.3L1171.0 551.4L1172.0 551.5L1173.0 551.6L1174.0 551.7L1175.0 551.9L1176.0 552.0L1177.0 552.1L1178.0 552.2L1179.0 552.3L1180.0 552.4L1181.0 552.5L1182.0 552.7L1183.0 552.8L1184.0 552.9L1185.0 553.0L1186.0 553.1L1187.0 553.2L1188.0 553.3L1189.0 553.4L1190.0 553.5L1191.0 553.6L1192.0 553.7L1193.0 553.8L1194.0 553.9L1195.0 554.0L1196.0 554.1L1197.0 554.3L1198.0 554.4L1199.0 554.5L1200.0 554.6L1201.0 554.7L1202.0 554.8L1203.0 554.9L1204.0 555.0L1205.0 555.1L1206.0 555.1L1207.0 555.2L1208.0 555.3L1209.0 555.4L1210.0 555.5L1211.0 555.6L1212.0 555.7L1213.0 555.8L1214.0 555.9L1215.0 556.0L1216.0 556.1L1217.0 556.2L1218.0 556.3L1219.0 556.4L1220.0 556.4L1221.0 556.5L1222.0 556.6L1223.0 556.7L1224.0 556.8L1225.0 556.9L1226.0 557.0L1227.0 557.1L1228.0 557.2L1229.0 557.3L1230.0 557.3L1231.0 557.4L1232.0 557.5L1233.0 557.6L1234.0 557.7L1235.0 557.8L1236.0 557.9L1237.0 558.0L1238.0 558.1L1239.0 558.1L1240.0 558.2L1241.0 558.3L1242.0 558.4L1243.0 558.5L1244.0 558.6L1245.0 558.6L1246.0 558.7L1247.0 558.8L1248.0 558.9L1249.0 559.0L1250.0 559.0L1251.0 559.1L1252.0 559.2L1253.0 559.3L1254.0 559.4L1255.0 559.4L1256.0 559.5L1257.0 559.6L1258.0 559.7L1259.0 559.8L1260.0 559.8L1261.0 559.9L1262.0 560.0L1263.0 560.1L1264.0 560.1L1265.0 560.2L1266.0 560.3L1267.0 560.4L1268.0 560.4L1269.0 560.5L1270.0 560.6L1271.0 560.7L1272.0 560.7L1273.0 560.8L1274.0 560.9L1275.0 561.0L1276.0 561.0L1277.0 561.1L1278.0 561.2L1279.0 561.2L1280.0 561.3L1281.0 561.4L1282.0 561.5L1283.0 561.5L1284.0 561.6L1285.0 561.7L1286.0 561.7L1287.0 561.8L1288.0 561.9L1289.0 561.9L1290.0 562.0L1291.0 562.1L1292.0 562.1L1293.0 562.2L1294.0 562.3L1295.0 562.3L1296.0 562.4L1297.0 562.5L1298.0 562.5L1299.0 562.6L1300.0 562.7L1301.0 562.7L1302.0 562.8L1303.0 562.8L1304.0 562.9L1305.0 563.0L1306.0 563.0L1307.0 563.1L1308.0 563.1L1309.0 563.2L1310.0 563.3L1311.0 563.3L1312.0 563.4L1313.0 563.4L1314.0 563.5"/>
</g>
<g id="legend">
<line x1="151.8" x2="231.6" y1="785" y2="785" stroke="#843c0c" stroke-width="4.2" stroke-linecap="round"/>
<line x1="464.1" x2="543.6" y1="785" y2="785" stroke="#00b050" stroke-width="4.2" stroke-linecap="round"/>
<line x1="751.1" x2="831.3" y1="785" y2="785" stroke="#c00000" stroke-width="4.2" stroke-linecap="round"/>
<line x1="1092.9" x2="1172.8" y1="785" y2="785" stroke="#0070c0" stroke-width="4.2" stroke-linecap="round"/>
</g>
<g id="labels" opacity="0.999">
<text x="67.72" y="628.80" font-size="40.2" textLength="39.25" lengthAdjust="spacingAndGlyphs">75</text>
<text x="68.84" y="515.90" font-size="40.2" textLength="38.88" lengthAdjust="spacingAndGlyphs">80</text>
<text x="68.92" y="403.00" font-size="40.2" textLength="37.96" lengthAdjust="spacingAndGlyphs">85</text>
<text x="68.51" y="290.10" font-size="40.2" textLength="38.58" lengthAdjust="spacingAndGlyphs">90</text>
<text x="68.58" y="177.20" font-size="40.2" textLength="38.08" lengthAdjust="spacingAndGlyphs">95</text>
<text x="49.52" y="64.30" font-size="40.2" textLength="57.66" lengthAdjust="spacingAndGlyphs">100</text>
<text x="134.50" y="683.20" font-size="40.2" textLength="20.40" lengthAdjust="spacingAndGlyphs">0</text>
<text x="237.88" y="683.20" font-size="40.2" textLength="58.33" lengthAdjust="spacingAndGlyphs">100</text>
<text x="361.52" y="683.20" font-size="40.2" textLength="58.33" lengthAdjust="spacingAndGlyphs">200</text>
<text x="484.34" y="683.20" font-size="40.2" textLength="58.33" lengthAdjust="spacingAndGlyphs">300</text>
<text x="607.37" y="683.20" font-size="40.2" textLength="58.33" lengthAdjust="spacingAndGlyphs">400</text>
<text x="729.38" y="683.20" font-size="40.2" textLength="58.33" lengthAdjust="spacingAndGlyphs">500</text>
<text x="852.42" y="683.20" font-size="40.2" textLength="58.33" lengthAdjust="spacingAndGlyphs">600</text>
<text x="974.73" y="683.20" font-size="40.2" textLength="58.33" lengthAdjust="spacingAndGlyphs">700</text>
<text x="1098.04" y="683.20" font-size="40.2" textLength="58.33" lengthAdjust="spacingAndGlyphs">800</text>
<text x="1220.93" y="683.20" font-size="40.2" textLength="58.33" lengthAdjust="spacingAndGlyphs">900</text>
<text font-size="40.3"><tspan x="594.25" y="723.47" textLength="216.74" lengthAdjust="spacingAndGlyphs">Temperature</tspan> <tspan x="819.34" y="723.47" textLength="66.95" lengthAdjust="spacingAndGlyphs">(°C)</tspan></text>
<text transform="translate(47.77 462.86) rotate(-90)" font-size="40.3" textLength="170.65" lengthAdjust="spacingAndGlyphs">TG (wt %)</text>
<text x="238.84" y="795.68" font-size="40.3" textLength="81.39" lengthAdjust="spacingAndGlyphs">OPC</text>
<text x="551.85" y="795.68" font-size="40.3" textLength="55.28" lengthAdjust="spacingAndGlyphs">NT</text>
<text x="839.39" y="795.68" font-size="40.3" textLength="109.05" lengthAdjust="spacingAndGlyphs">RC650</text>
<text x="1180.86" y="795.68" font-size="40.3" textLength="83.16" lengthAdjust="spacingAndGlyphs">NTC</text>
</g>
</svg>
</body>
</html>
